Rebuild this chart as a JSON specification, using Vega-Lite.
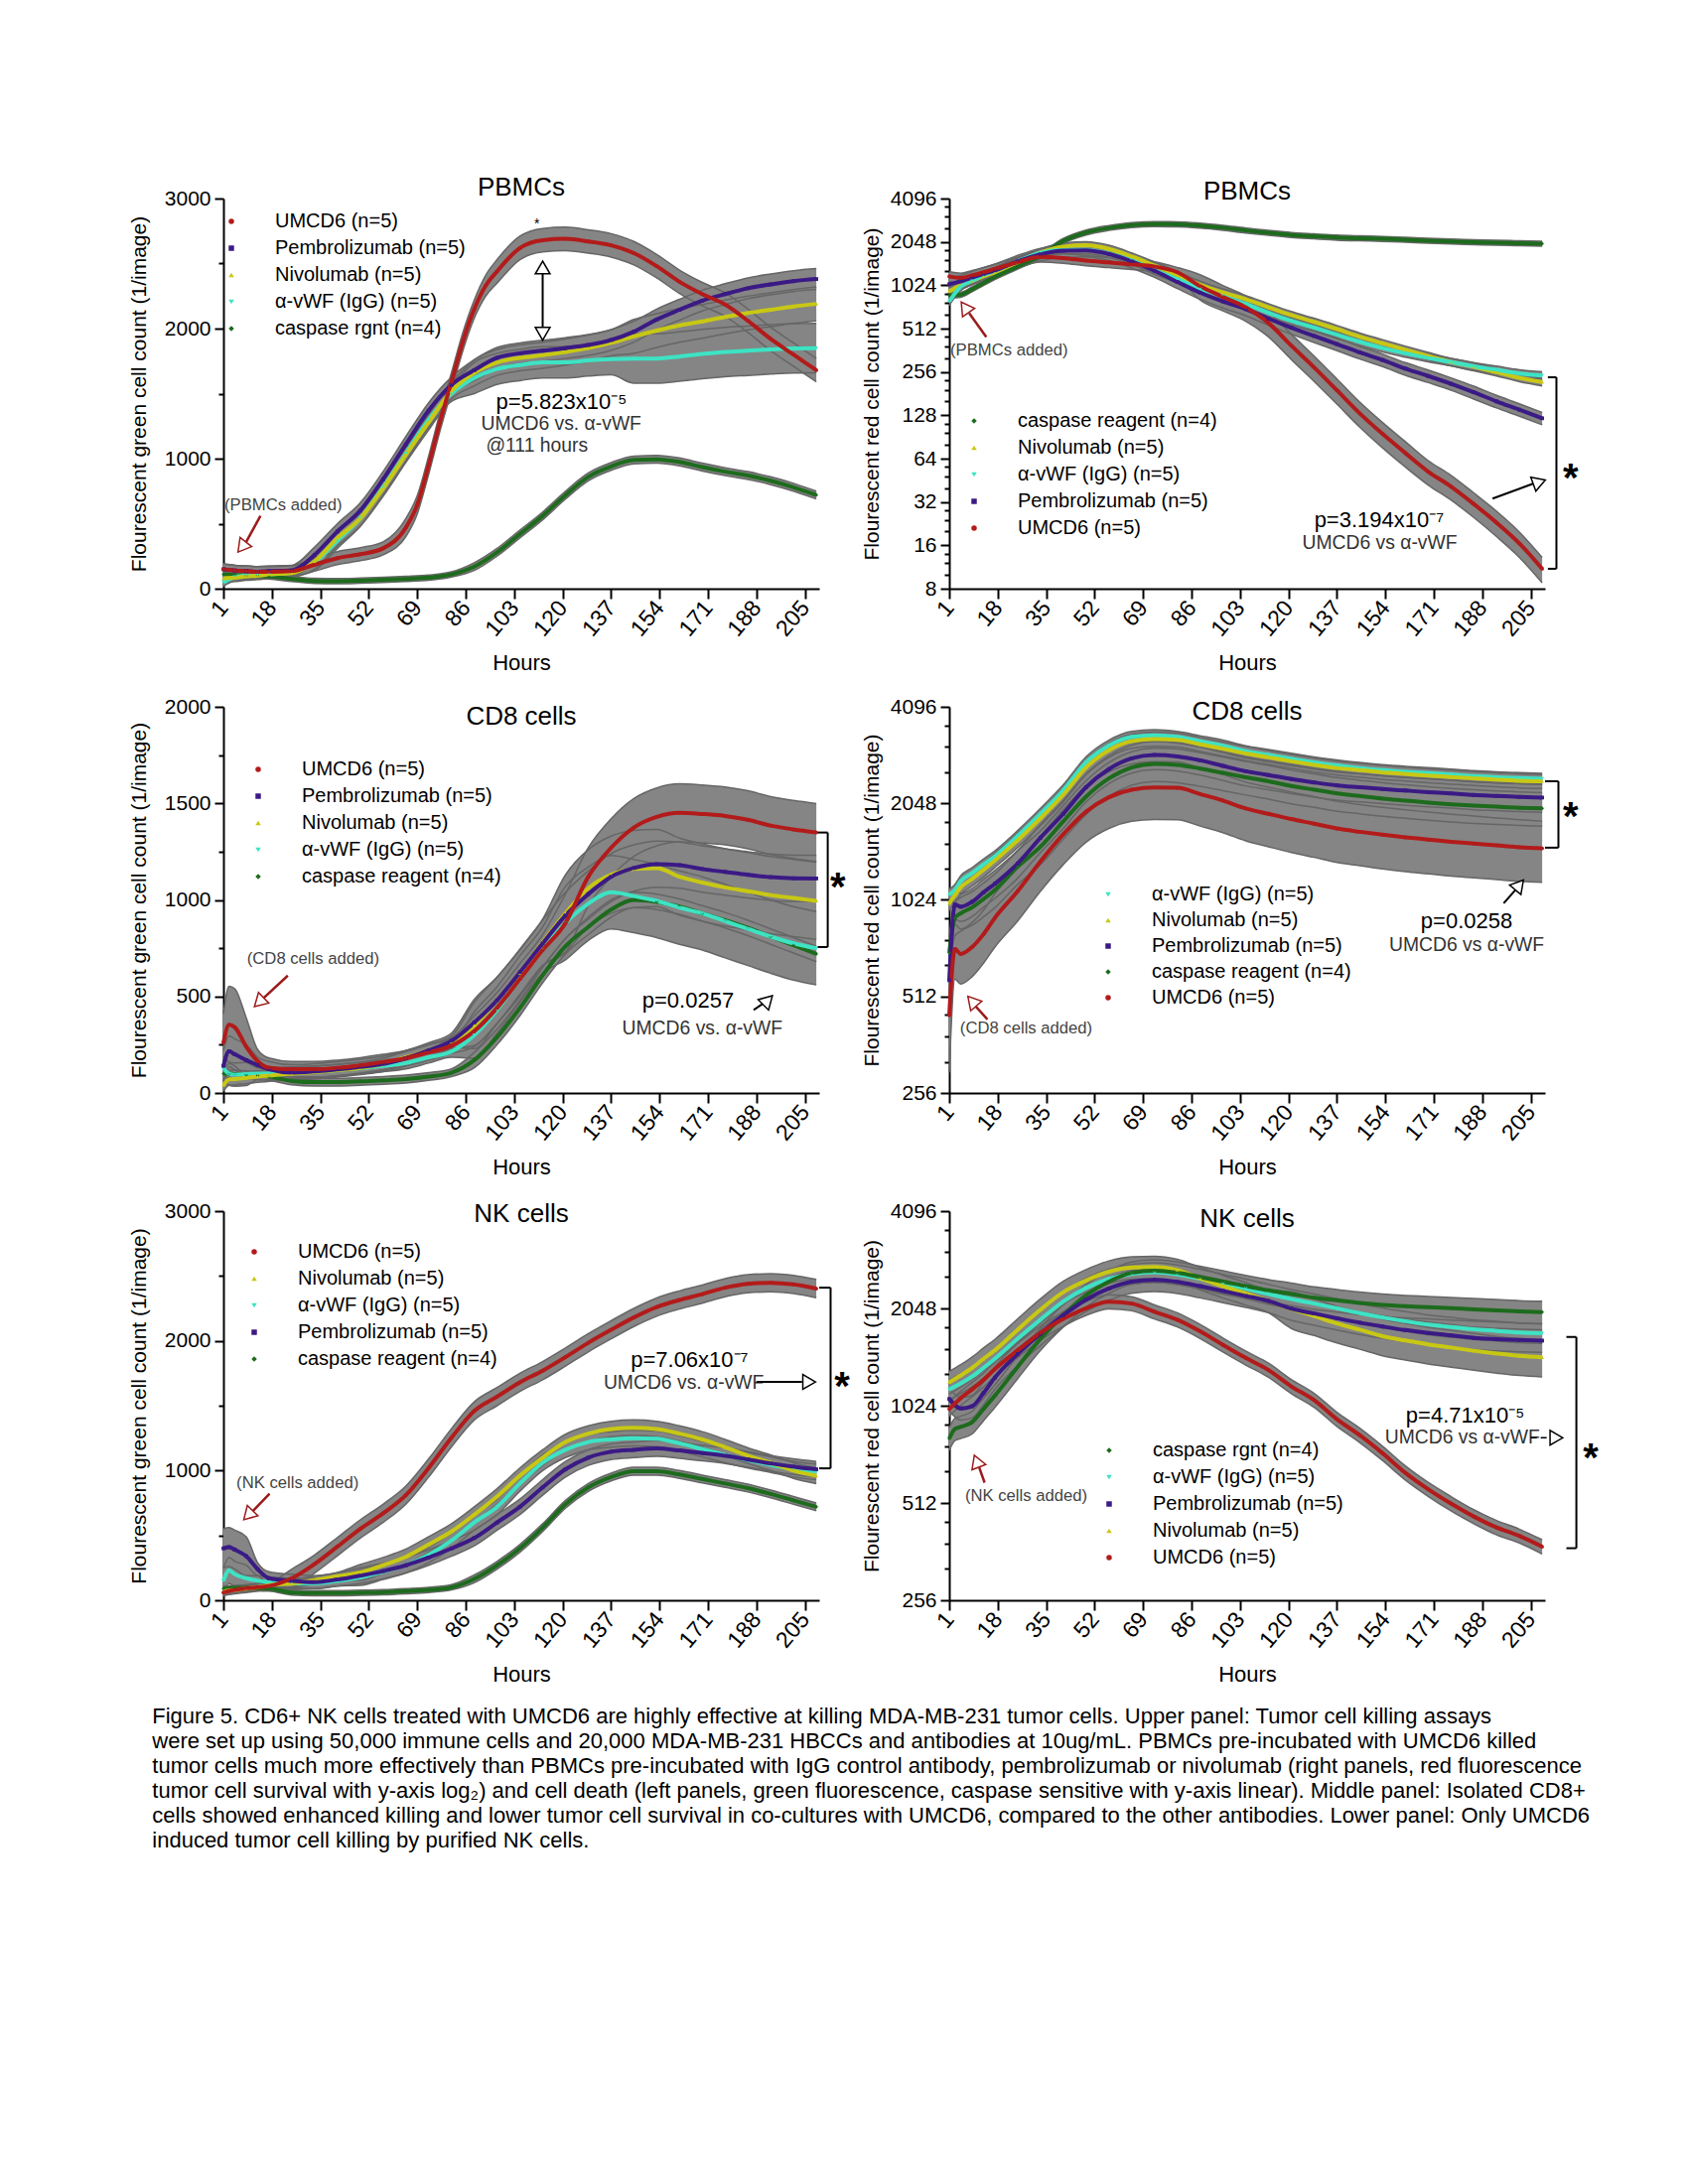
{
"$schema":"https://vega.github.io/schema/vega-lite/v6.json",
"background":"white",
"padding":{"left":129,"top":176,"right":0,"bottom":0},
"datasets":{
"tl":[
{"s":"C","t":1,"y":110,"e":20},{"s":"C","t":5,"y":105,"e":20},{"s":"C","t":9,"y":100,"e":20},{"s":"C","t":13,"y":100,"e":20},{"s":"C","t":17,"y":95,"e":20},{"s":"C","t":25,"y":75,"e":20},{"s":"C","t":33,"y":60,"e":20},{"s":"C","t":41,"y":58,"e":20},{"s":"C","t":49,"y":62,"e":20},{"s":"C","t":57,"y":68,"e":20},{"s":"C","t":65,"y":75,"e":20},{"s":"C","t":73,"y":85,"e":20},{"s":"C","t":81,"y":110,"e":20},{"s":"C","t":89,"y":170,"e":30},{"s":"C","t":97,"y":280,"e":30},{"s":"C","t":105,"y":420,"e":30},{"s":"C","t":113,"y":560,"e":30},{"s":"C","t":121,"y":720,"e":30},{"s":"C","t":129,"y":860,"e":30},{"s":"C","t":137,"y":940,"e":30},{"s":"C","t":145,"y":990,"e":30},{"s":"C","t":153,"y":995,"e":30},{"s":"C","t":161,"y":975,"e":30},{"s":"C","t":169,"y":935,"e":30},{"s":"C","t":177,"y":900,"e":30},{"s":"C","t":185,"y":870,"e":30},{"s":"C","t":193,"y":830,"e":30},{"s":"C","t":201,"y":780,"e":30},{"s":"C","t":209,"y":720,"e":30},
{"s":"V","t":1,"y":50,"e":30},{"s":"V","t":5,"y":90,"e":30},{"s":"V","t":9,"y":100,"e":30},{"s":"V","t":13,"y":105,"e":30},{"s":"V","t":17,"y":110,"e":30},{"s":"V","t":25,"y":125,"e":30},{"s":"V","t":33,"y":200,"e":60},{"s":"V","t":41,"y":370,"e":60},{"s":"V","t":49,"y":540,"e":60},{"s":"V","t":57,"y":780,"e":60},{"s":"V","t":65,"y":1040,"e":60},{"s":"V","t":73,"y":1300,"e":60},{"s":"V","t":81,"y":1500,"e":60},{"s":"V","t":89,"y":1620,"e":120},{"s":"V","t":97,"y":1690,"e":120},{"s":"V","t":105,"y":1720,"e":120},{"s":"V","t":113,"y":1740,"e":120},{"s":"V","t":121,"y":1740,"e":120},{"s":"V","t":129,"y":1755,"e":120},{"s":"V","t":137,"y":1765,"e":120},{"s":"V","t":145,"y":1770,"e":190},{"s":"V","t":153,"y":1770,"e":190},{"s":"V","t":161,"y":1785,"e":190},{"s":"V","t":169,"y":1805,"e":190},{"s":"V","t":177,"y":1820,"e":190},{"s":"V","t":185,"y":1830,"e":190},{"s":"V","t":193,"y":1840,"e":190},{"s":"V","t":201,"y":1848,"e":190},{"s":"V","t":209,"y":1850,"e":190},
{"s":"N","t":1,"y":80,"e":30},{"s":"N","t":5,"y":85,"e":30},{"s":"N","t":9,"y":95,"e":30},{"s":"N","t":13,"y":100,"e":30},{"s":"N","t":17,"y":110,"e":30},{"s":"N","t":25,"y":120,"e":30},{"s":"N","t":33,"y":210,"e":60},{"s":"N","t":41,"y":390,"e":60},{"s":"N","t":49,"y":540,"e":60},{"s":"N","t":57,"y":770,"e":60},{"s":"N","t":65,"y":1030,"e":60},{"s":"N","t":73,"y":1280,"e":60},{"s":"N","t":81,"y":1520,"e":60},{"s":"N","t":89,"y":1660,"e":100},{"s":"N","t":97,"y":1740,"e":100},{"s":"N","t":105,"y":1775,"e":100},{"s":"N","t":113,"y":1795,"e":100},{"s":"N","t":121,"y":1820,"e":100},{"s":"N","t":129,"y":1850,"e":100},{"s":"N","t":137,"y":1890,"e":100},{"s":"N","t":145,"y":1940,"e":130},{"s":"N","t":153,"y":1985,"e":130},{"s":"N","t":161,"y":2025,"e":130},{"s":"N","t":169,"y":2055,"e":130},{"s":"N","t":177,"y":2090,"e":130},{"s":"N","t":185,"y":2120,"e":130},{"s":"N","t":193,"y":2145,"e":130},{"s":"N","t":201,"y":2170,"e":130},{"s":"N","t":209,"y":2190,"e":130},
{"s":"P","t":1,"y":150,"e":40},{"s":"P","t":5,"y":140,"e":40},{"s":"P","t":9,"y":135,"e":40},{"s":"P","t":13,"y":130,"e":40},{"s":"P","t":17,"y":135,"e":40},{"s":"P","t":25,"y":140,"e":40},{"s":"P","t":33,"y":260,"e":60},{"s":"P","t":41,"y":440,"e":60},{"s":"P","t":49,"y":600,"e":60},{"s":"P","t":57,"y":840,"e":60},{"s":"P","t":65,"y":1110,"e":60},{"s":"P","t":73,"y":1370,"e":60},{"s":"P","t":81,"y":1567,"e":60},{"s":"P","t":89,"y":1680,"e":80},{"s":"P","t":97,"y":1775,"e":80},{"s":"P","t":105,"y":1810,"e":80},{"s":"P","t":113,"y":1830,"e":80},{"s":"P","t":121,"y":1850,"e":80},{"s":"P","t":129,"y":1874,"e":80},{"s":"P","t":137,"y":1912,"e":80},{"s":"P","t":145,"y":1976,"e":80},{"s":"P","t":153,"y":2070,"e":80},{"s":"P","t":161,"y":2145,"e":80},{"s":"P","t":169,"y":2215,"e":80},{"s":"P","t":177,"y":2265,"e":80},{"s":"P","t":185,"y":2310,"e":80},{"s":"P","t":193,"y":2340,"e":80},{"s":"P","t":201,"y":2365,"e":80},{"s":"P","t":209,"y":2381,"e":80},
{"s":"U","t":1,"y":150,"e":40},{"s":"U","t":5,"y":140,"e":40},{"s":"U","t":9,"y":135,"e":40},{"s":"U","t":13,"y":130,"e":40},{"s":"U","t":17,"y":130,"e":40},{"s":"U","t":25,"y":135,"e":40},{"s":"U","t":33,"y":185,"e":50},{"s":"U","t":41,"y":235,"e":50},{"s":"U","t":49,"y":265,"e":50},{"s":"U","t":57,"y":310,"e":50},{"s":"U","t":65,"y":470,"e":70},{"s":"U","t":69,"y":645,"e":70},{"s":"U","t":73,"y":950,"e":70},{"s":"U","t":77,"y":1285,"e":70},{"s":"U","t":81,"y":1590,"e":70},{"s":"U","t":85,"y":1900,"e":70},{"s":"U","t":89,"y":2150,"e":70},{"s":"U","t":93,"y":2330,"e":80},{"s":"U","t":97,"y":2440,"e":90},{"s":"U","t":105,"y":2620,"e":90},{"s":"U","t":113,"y":2680,"e":90},{"s":"U","t":121,"y":2690,"e":90},{"s":"U","t":129,"y":2670,"e":90},{"s":"U","t":137,"y":2640,"e":90},{"s":"U","t":145,"y":2580,"e":90},{"s":"U","t":153,"y":2480,"e":90},{"s":"U","t":161,"y":2360,"e":90},{"s":"U","t":169,"y":2265,"e":90},{"s":"U","t":177,"y":2185,"e":90},{"s":"U","t":185,"y":2060,"e":90},{"s":"U","t":193,"y":1920,"e":90},{"s":"U","t":201,"y":1800,"e":90},{"s":"U","t":209,"y":1680,"e":90}
],
"tr":[
{"s":"C","t":1,"y":870,"e":35},{"s":"C","t":5,"y":880,"e":35},{"s":"C","t":9,"y":960,"e":38},{"s":"C","t":13,"y":1060,"e":42},{"s":"C","t":17,"y":1170,"e":47},{"s":"C","t":25,"y":1380,"e":55},{"s":"C","t":33,"y":1640,"e":66},{"s":"C","t":41,"y":2080,"e":83},{"s":"C","t":49,"y":2380,"e":95},{"s":"C","t":57,"y":2560,"e":100},{"s":"C","t":65,"y":2680,"e":107},{"s":"C","t":73,"y":2720,"e":109},{"s":"C","t":81,"y":2715,"e":109},{"s":"C","t":89,"y":2660,"e":106},{"s":"C","t":97,"y":2570,"e":103},{"s":"C","t":105,"y":2460,"e":98},{"s":"C","t":113,"y":2370,"e":95},{"s":"C","t":121,"y":2290,"e":92},{"s":"C","t":129,"y":2240,"e":90},{"s":"C","t":137,"y":2195,"e":88},{"s":"C","t":145,"y":2170,"e":87},{"s":"C","t":153,"y":2150,"e":86},{"s":"C","t":161,"y":2120,"e":85},{"s":"C","t":169,"y":2085,"e":83},{"s":"C","t":177,"y":2060,"e":82},{"s":"C","t":185,"y":2040,"e":82},{"s":"C","t":193,"y":2020,"e":81},{"s":"C","t":201,"y":2005,"e":80},{"s":"C","t":209,"y":1990,"e":80},
{"s":"N","t":1,"y":930,"e":56},{"s":"N","t":5,"y":1020,"e":61},{"s":"N","t":9,"y":1100,"e":66},{"s":"N","t":13,"y":1180,"e":71},{"s":"N","t":17,"y":1260,"e":76},{"s":"N","t":25,"y":1480,"e":89},{"s":"N","t":33,"y":1730,"e":104},{"s":"N","t":41,"y":1900,"e":114},{"s":"N","t":49,"y":1940,"e":116},{"s":"N","t":57,"y":1830,"e":110},{"s":"N","t":65,"y":1620,"e":97},{"s":"N","t":73,"y":1400,"e":84},{"s":"N","t":81,"y":1200,"e":72},{"s":"N","t":89,"y":1030,"e":62},{"s":"N","t":97,"y":910,"e":55},{"s":"N","t":105,"y":820,"e":49},{"s":"N","t":113,"y":720,"e":43},{"s":"N","t":121,"y":635,"e":38},{"s":"N","t":129,"y":570,"e":34},{"s":"N","t":137,"y":508,"e":30},{"s":"N","t":145,"y":450,"e":27},{"s":"N","t":153,"y":405,"e":24},{"s":"N","t":161,"y":365,"e":22},{"s":"N","t":169,"y":330,"e":20},{"s":"N","t":177,"y":300,"e":18},{"s":"N","t":185,"y":278,"e":17},{"s":"N","t":193,"y":255,"e":15},{"s":"N","t":201,"y":233,"e":14},{"s":"N","t":209,"y":218,"e":13},
{"s":"V","t":1,"y":790,"e":47},{"s":"V","t":5,"y":1000,"e":60},{"s":"V","t":9,"y":1100,"e":66},{"s":"V","t":13,"y":1200,"e":72},{"s":"V","t":17,"y":1290,"e":77},{"s":"V","t":25,"y":1500,"e":90},{"s":"V","t":33,"y":1720,"e":103},{"s":"V","t":41,"y":1800,"e":108},{"s":"V","t":49,"y":1800,"e":108},{"s":"V","t":57,"y":1700,"e":102},{"s":"V","t":65,"y":1520,"e":91},{"s":"V","t":73,"y":1300,"e":78},{"s":"V","t":81,"y":1130,"e":68},{"s":"V","t":89,"y":970,"e":58},{"s":"V","t":97,"y":860,"e":52},{"s":"V","t":105,"y":760,"e":46},{"s":"V","t":113,"y":660,"e":40},{"s":"V","t":121,"y":580,"e":35},{"s":"V","t":129,"y":520,"e":31},{"s":"V","t":137,"y":465,"e":28},{"s":"V","t":145,"y":415,"e":25},{"s":"V","t":153,"y":375,"e":23},{"s":"V","t":161,"y":345,"e":21},{"s":"V","t":169,"y":320,"e":19},{"s":"V","t":177,"y":300,"e":18},{"s":"V","t":185,"y":280,"e":17},{"s":"V","t":193,"y":265,"e":16},{"s":"V","t":201,"y":250,"e":15},{"s":"V","t":209,"y":242,"e":15},
{"s":"P","t":1,"y":1040,"e":104},{"s":"P","t":5,"y":1090,"e":109},{"s":"P","t":9,"y":1160,"e":116},{"s":"P","t":13,"y":1230,"e":123},{"s":"P","t":17,"y":1300,"e":130},{"s":"P","t":25,"y":1500,"e":150},{"s":"P","t":33,"y":1680,"e":168},{"s":"P","t":41,"y":1780,"e":178},{"s":"P","t":49,"y":1790,"e":179},{"s":"P","t":57,"y":1690,"e":169},{"s":"P","t":65,"y":1500,"e":150},{"s":"P","t":73,"y":1290,"e":129},{"s":"P","t":81,"y":1080,"e":108},{"s":"P","t":89,"y":910,"e":91},{"s":"P","t":97,"y":790,"e":79},{"s":"P","t":105,"y":700,"e":70},{"s":"P","t":113,"y":600,"e":60},{"s":"P","t":121,"y":520,"e":52},{"s":"P","t":129,"y":455,"e":46},{"s":"P","t":137,"y":400,"e":40},{"s":"P","t":145,"y":350,"e":35},{"s":"P","t":153,"y":310,"e":31},{"s":"P","t":161,"y":270,"e":27},{"s":"P","t":169,"y":240,"e":24},{"s":"P","t":177,"y":212,"e":21},{"s":"P","t":185,"y":185,"e":19},{"s":"P","t":193,"y":160,"e":16},{"s":"P","t":201,"y":140,"e":14},{"s":"P","t":209,"y":122,"e":12},
{"s":"U","t":1,"y":1180,"e":94},{"s":"U","t":5,"y":1150,"e":92},{"s":"U","t":9,"y":1200,"e":96},{"s":"U","t":13,"y":1260,"e":101},{"s":"U","t":17,"y":1330,"e":106},{"s":"U","t":25,"y":1480,"e":118},{"s":"U","t":33,"y":1610,"e":129},{"s":"U","t":41,"y":1580,"e":126},{"s":"U","t":49,"y":1520,"e":122},{"s":"U","t":57,"y":1475,"e":118},{"s":"U","t":65,"y":1430,"e":114},{"s":"U","t":73,"y":1380,"e":110},{"s":"U","t":81,"y":1260,"e":101},{"s":"U","t":89,"y":1010,"e":202},{"s":"U","t":97,"y":850,"e":170},{"s":"U","t":105,"y":720,"e":144},{"s":"U","t":113,"y":560,"e":112},{"s":"U","t":121,"y":390,"e":78},{"s":"U","t":129,"y":275,"e":55},{"s":"U","t":137,"y":191,"e":38},{"s":"U","t":145,"y":132,"e":26},{"s":"U","t":153,"y":95,"e":19},{"s":"U","t":161,"y":70,"e":14},{"s":"U","t":169,"y":52,"e":10},{"s":"U","t":177,"y":41,"e":8},{"s":"U","t":185,"y":31,"e":6},{"s":"U","t":193,"y":23,"e":4.6},{"s":"U","t":201,"y":16.5,"e":3.3},{"s":"U","t":209,"y":11,"e":2.2}
],
"ml":[
{"s":"C","t":1,"y":100,"e":20},{"s":"C","t":3,"y":100,"e":20},{"s":"C","t":5,"y":98,"e":20},{"s":"C","t":9,"y":95,"e":20},{"s":"C","t":13,"y":90,"e":20},{"s":"C","t":17,"y":85,"e":20},{"s":"C","t":25,"y":62,"e":20},{"s":"C","t":33,"y":56,"e":20},{"s":"C","t":41,"y":56,"e":20},{"s":"C","t":49,"y":60,"e":20},{"s":"C","t":57,"y":65,"e":20},{"s":"C","t":65,"y":72,"e":20},{"s":"C","t":73,"y":85,"e":20},{"s":"C","t":81,"y":105,"e":20},{"s":"C","t":89,"y":170,"e":40},{"s":"C","t":97,"y":290,"e":40},{"s":"C","t":105,"y":440,"e":40},{"s":"C","t":113,"y":610,"e":40},{"s":"C","t":121,"y":760,"e":40},{"s":"C","t":129,"y":860,"e":40},{"s":"C","t":137,"y":950,"e":40},{"s":"C","t":145,"y":1000,"e":40},{"s":"C","t":153,"y":990,"e":40},{"s":"C","t":161,"y":965,"e":40},{"s":"C","t":169,"y":930,"e":40},{"s":"C","t":177,"y":895,"e":40},{"s":"C","t":185,"y":855,"e":40},{"s":"C","t":193,"y":810,"e":40},{"s":"C","t":201,"y":765,"e":40},{"s":"C","t":209,"y":720,"e":40},
{"s":"V","t":1,"y":130,"e":60},{"s":"V","t":3,"y":100,"e":60},{"s":"V","t":5,"y":95,"e":60},{"s":"V","t":9,"y":98,"e":60},{"s":"V","t":13,"y":100,"e":30},{"s":"V","t":17,"y":100,"e":30},{"s":"V","t":25,"y":105,"e":30},{"s":"V","t":33,"y":110,"e":30},{"s":"V","t":41,"y":118,"e":30},{"s":"V","t":49,"y":128,"e":30},{"s":"V","t":57,"y":140,"e":30},{"s":"V","t":65,"y":155,"e":30},{"s":"V","t":73,"y":185,"e":30},{"s":"V","t":81,"y":215,"e":30},{"s":"V","t":89,"y":300,"e":120},{"s":"V","t":97,"y":430,"e":120},{"s":"V","t":105,"y":590,"e":120},{"s":"V","t":113,"y":740,"e":120},{"s":"V","t":121,"y":880,"e":190},{"s":"V","t":129,"y":980,"e":190},{"s":"V","t":137,"y":1040,"e":190},{"s":"V","t":145,"y":1020,"e":190},{"s":"V","t":153,"y":995,"e":190},{"s":"V","t":161,"y":960,"e":190},{"s":"V","t":169,"y":930,"e":190},{"s":"V","t":177,"y":890,"e":190},{"s":"V","t":185,"y":850,"e":190},{"s":"V","t":193,"y":810,"e":190},{"s":"V","t":201,"y":775,"e":190},{"s":"V","t":209,"y":750,"e":190},
{"s":"N","t":1,"y":40,"e":30},{"s":"N","t":3,"y":70,"e":30},{"s":"N","t":5,"y":72,"e":30},{"s":"N","t":9,"y":78,"e":30},{"s":"N","t":13,"y":85,"e":30},{"s":"N","t":17,"y":90,"e":30},{"s":"N","t":25,"y":100,"e":30},{"s":"N","t":33,"y":108,"e":30},{"s":"N","t":41,"y":118,"e":30},{"s":"N","t":49,"y":130,"e":30},{"s":"N","t":57,"y":150,"e":30},{"s":"N","t":65,"y":185,"e":30},{"s":"N","t":73,"y":220,"e":30},{"s":"N","t":81,"y":265,"e":30},{"s":"N","t":89,"y":350,"e":120},{"s":"N","t":97,"y":480,"e":120},{"s":"N","t":105,"y":620,"e":120},{"s":"N","t":113,"y":780,"e":120},{"s":"N","t":121,"y":930,"e":200},{"s":"N","t":129,"y":1060,"e":200},{"s":"N","t":137,"y":1130,"e":200},{"s":"N","t":145,"y":1160,"e":200},{"s":"N","t":153,"y":1165,"e":200},{"s":"N","t":161,"y":1120,"e":200},{"s":"N","t":169,"y":1090,"e":200},{"s":"N","t":177,"y":1065,"e":200},{"s":"N","t":185,"y":1045,"e":200},{"s":"N","t":193,"y":1025,"e":200},{"s":"N","t":201,"y":1010,"e":200},{"s":"N","t":209,"y":995,"e":200},
{"s":"P","t":1,"y":140,"e":80},{"s":"P","t":3,"y":216,"e":80},{"s":"P","t":5,"y":200,"e":80},{"s":"P","t":9,"y":170,"e":80},{"s":"P","t":13,"y":145,"e":40},{"s":"P","t":17,"y":123,"e":40},{"s":"P","t":25,"y":106,"e":40},{"s":"P","t":33,"y":112,"e":40},{"s":"P","t":41,"y":122,"e":40},{"s":"P","t":49,"y":135,"e":40},{"s":"P","t":57,"y":150,"e":40},{"s":"P","t":65,"y":180,"e":40},{"s":"P","t":73,"y":220,"e":40},{"s":"P","t":81,"y":270,"e":40},{"s":"P","t":89,"y":365,"e":120},{"s":"P","t":97,"y":480,"e":120},{"s":"P","t":105,"y":625,"e":120},{"s":"P","t":113,"y":775,"e":120},{"s":"P","t":121,"y":920,"e":120},{"s":"P","t":129,"y":1030,"e":120},{"s":"P","t":137,"y":1120,"e":120},{"s":"P","t":145,"y":1165,"e":120},{"s":"P","t":153,"y":1185,"e":120},{"s":"P","t":161,"y":1180,"e":120},{"s":"P","t":169,"y":1160,"e":120},{"s":"P","t":177,"y":1145,"e":120},{"s":"P","t":185,"y":1130,"e":120},{"s":"P","t":193,"y":1118,"e":120},{"s":"P","t":201,"y":1112,"e":120},{"s":"P","t":209,"y":1111,"e":120},
{"s":"U","t":1,"y":260,"e":150},{"s":"U","t":3,"y":353,"e":200},{"s":"U","t":5,"y":340,"e":200},{"s":"U","t":9,"y":240,"e":150},{"s":"U","t":13,"y":165,"e":60},{"s":"U","t":17,"y":131,"e":50},{"s":"U","t":25,"y":123,"e":40},{"s":"U","t":33,"y":123,"e":40},{"s":"U","t":41,"y":130,"e":40},{"s":"U","t":49,"y":143,"e":40},{"s":"U","t":57,"y":160,"e":40},{"s":"U","t":65,"y":180,"e":40},{"s":"U","t":73,"y":210,"e":40},{"s":"U","t":81,"y":245,"e":40},{"s":"U","t":89,"y":320,"e":80},{"s":"U","t":97,"y":440,"e":80},{"s":"U","t":105,"y":590,"e":80},{"s":"U","t":113,"y":740,"e":80},{"s":"U","t":121,"y":880,"e":150},{"s":"U","t":129,"y":1120,"e":150},{"s":"U","t":137,"y":1270,"e":150},{"s":"U","t":145,"y":1375,"e":150},{"s":"U","t":153,"y":1430,"e":150},{"s":"U","t":161,"y":1451,"e":150},{"s":"U","t":169,"y":1445,"e":150},{"s":"U","t":177,"y":1435,"e":150},{"s":"U","t":185,"y":1415,"e":150},{"s":"U","t":193,"y":1385,"e":150},{"s":"U","t":201,"y":1365,"e":150},{"s":"U","t":209,"y":1349,"e":150}
],
"mr":[
{"s":"C","t":1,"y":700,"e":84},{"s":"C","t":3,"y":900,"e":108},{"s":"C","t":5,"y":930,"e":112},{"s":"C","t":9,"y":970,"e":116},{"s":"C","t":13,"y":1030,"e":124},{"s":"C","t":17,"y":1100,"e":132},{"s":"C","t":25,"y":1300,"e":156},{"s":"C","t":33,"y":1500,"e":180},{"s":"C","t":41,"y":1800,"e":216},{"s":"C","t":49,"y":2150,"e":258},{"s":"C","t":57,"y":2450,"e":294},{"s":"C","t":65,"y":2650,"e":318},{"s":"C","t":73,"y":2720,"e":326},{"s":"C","t":81,"y":2700,"e":324},{"s":"C","t":89,"y":2630,"e":316},{"s":"C","t":97,"y":2550,"e":306},{"s":"C","t":105,"y":2470,"e":296},{"s":"C","t":113,"y":2400,"e":288},{"s":"C","t":121,"y":2320,"e":278},{"s":"C","t":129,"y":2260,"e":271},{"s":"C","t":137,"y":2200,"e":264},{"s":"C","t":145,"y":2160,"e":259},{"s":"C","t":153,"y":2120,"e":254},{"s":"C","t":161,"y":2090,"e":251},{"s":"C","t":169,"y":2060,"e":247},{"s":"C","t":177,"y":2035,"e":244},{"s":"C","t":185,"y":2015,"e":242},{"s":"C","t":193,"y":2000,"e":240},{"s":"C","t":201,"y":1985,"e":238},{"s":"C","t":209,"y":1975,"e":237},
{"s":"V","t":1,"y":1063,"e":43},{"s":"V","t":3,"y":1100,"e":44},{"s":"V","t":5,"y":1170,"e":47},{"s":"V","t":9,"y":1240,"e":50},{"s":"V","t":13,"y":1320,"e":53},{"s":"V","t":17,"y":1400,"e":56},{"s":"V","t":25,"y":1620,"e":65},{"s":"V","t":33,"y":1900,"e":76},{"s":"V","t":41,"y":2250,"e":90},{"s":"V","t":49,"y":2750,"e":110},{"s":"V","t":57,"y":3100,"e":124},{"s":"V","t":65,"y":3300,"e":132},{"s":"V","t":73,"y":3340,"e":134},{"s":"V","t":81,"y":3300,"e":132},{"s":"V","t":89,"y":3200,"e":128},{"s":"V","t":97,"y":3100,"e":124},{"s":"V","t":105,"y":2980,"e":119},{"s":"V","t":113,"y":2900,"e":116},{"s":"V","t":121,"y":2820,"e":113},{"s":"V","t":129,"y":2750,"e":110},{"s":"V","t":137,"y":2690,"e":108},{"s":"V","t":145,"y":2640,"e":106},{"s":"V","t":153,"y":2600,"e":104},{"s":"V","t":161,"y":2570,"e":103},{"s":"V","t":169,"y":2545,"e":102},{"s":"V","t":177,"y":2520,"e":101},{"s":"V","t":185,"y":2490,"e":100},{"s":"V","t":193,"y":2470,"e":99},{"s":"V","t":201,"y":2455,"e":98},{"s":"V","t":209,"y":2445,"e":98},
{"s":"N","t":1,"y":1000,"e":50},{"s":"N","t":3,"y":1060,"e":53},{"s":"N","t":5,"y":1120,"e":56},{"s":"N","t":9,"y":1190,"e":60},{"s":"N","t":13,"y":1270,"e":64},{"s":"N","t":17,"y":1360,"e":68},{"s":"N","t":25,"y":1570,"e":79},{"s":"N","t":33,"y":1840,"e":92},{"s":"N","t":41,"y":2180,"e":109},{"s":"N","t":49,"y":2650,"e":133},{"s":"N","t":57,"y":3000,"e":150},{"s":"N","t":65,"y":3200,"e":160},{"s":"N","t":73,"y":3250,"e":163},{"s":"N","t":81,"y":3230,"e":162},{"s":"N","t":89,"y":3130,"e":157},{"s":"N","t":97,"y":3030,"e":152},{"s":"N","t":105,"y":2930,"e":147},{"s":"N","t":113,"y":2850,"e":143},{"s":"N","t":121,"y":2770,"e":139},{"s":"N","t":129,"y":2700,"e":135},{"s":"N","t":137,"y":2640,"e":132},{"s":"N","t":145,"y":2600,"e":130},{"s":"N","t":153,"y":2560,"e":128},{"s":"N","t":161,"y":2530,"e":127},{"s":"N","t":169,"y":2500,"e":125},{"s":"N","t":177,"y":2475,"e":124},{"s":"N","t":185,"y":2450,"e":123},{"s":"N","t":193,"y":2430,"e":122},{"s":"N","t":201,"y":2410,"e":121},{"s":"N","t":209,"y":2400,"e":120},
{"s":"P","t":1,"y":575,"e":58},{"s":"P","t":3,"y":990,"e":99},{"s":"P","t":5,"y":975,"e":98},{"s":"P","t":9,"y":1010,"e":101},{"s":"P","t":13,"y":1080,"e":108},{"s":"P","t":17,"y":1150,"e":115},{"s":"P","t":25,"y":1330,"e":133},{"s":"P","t":33,"y":1600,"e":160},{"s":"P","t":41,"y":1900,"e":190},{"s":"P","t":49,"y":2300,"e":230},{"s":"P","t":57,"y":2620,"e":262},{"s":"P","t":65,"y":2830,"e":283},{"s":"P","t":73,"y":2900,"e":290},{"s":"P","t":81,"y":2870,"e":287},{"s":"P","t":89,"y":2790,"e":279},{"s":"P","t":97,"y":2680,"e":268},{"s":"P","t":105,"y":2580,"e":258},{"s":"P","t":113,"y":2510,"e":251},{"s":"P","t":121,"y":2440,"e":244},{"s":"P","t":129,"y":2380,"e":238},{"s":"P","t":137,"y":2330,"e":233},{"s":"P","t":145,"y":2300,"e":230},{"s":"P","t":153,"y":2270,"e":227},{"s":"P","t":161,"y":2245,"e":225},{"s":"P","t":169,"y":2220,"e":222},{"s":"P","t":177,"y":2200,"e":220},{"s":"P","t":185,"y":2175,"e":218},{"s":"P","t":193,"y":2160,"e":216},{"s":"P","t":201,"y":2145,"e":215},{"s":"P","t":209,"y":2135,"e":214},
{"s":"U","t":1,"y":447,"e":150},{"s":"U","t":3,"y":720,"e":140},{"s":"U","t":5,"y":695,"e":135},{"s":"U","t":9,"y":730,"e":140},{"s":"U","t":13,"y":800,"e":150},{"s":"U","t":17,"y":900,"e":170},{"s":"U","t":25,"y":1090,"e":210},{"s":"U","t":33,"y":1350,"e":260},{"s":"U","t":41,"y":1640,"e":320},{"s":"U","t":49,"y":1930,"e":380},{"s":"U","t":57,"y":2140,"e":430},{"s":"U","t":65,"y":2260,"e":460},{"s":"U","t":73,"y":2295,"e":470},{"s":"U","t":81,"y":2290,"e":470},{"s":"U","t":89,"y":2190,"e":450},{"s":"U","t":97,"y":2090,"e":430},{"s":"U","t":105,"y":1975,"e":410},{"s":"U","t":113,"y":1900,"e":400},{"s":"U","t":121,"y":1830,"e":390},{"s":"U","t":129,"y":1770,"e":380},{"s":"U","t":137,"y":1710,"e":370},{"s":"U","t":145,"y":1670,"e":360},{"s":"U","t":153,"y":1635,"e":355},{"s":"U","t":161,"y":1605,"e":350},{"s":"U","t":169,"y":1580,"e":345},{"s":"U","t":177,"y":1555,"e":340},{"s":"U","t":185,"y":1535,"e":335},{"s":"U","t":193,"y":1515,"e":330},{"s":"U","t":201,"y":1495,"e":325},{"s":"U","t":209,"y":1483,"e":320}
],
"bl":[
{"s":"C","t":1,"y":90,"e":20},{"s":"C","t":5,"y":95,"e":20},{"s":"C","t":9,"y":95,"e":20},{"s":"C","t":13,"y":92,"e":20},{"s":"C","t":17,"y":90,"e":20},{"s":"C","t":25,"y":60,"e":20},{"s":"C","t":33,"y":55,"e":20},{"s":"C","t":41,"y":55,"e":20},{"s":"C","t":49,"y":58,"e":20},{"s":"C","t":57,"y":62,"e":20},{"s":"C","t":65,"y":70,"e":20},{"s":"C","t":73,"y":80,"e":20},{"s":"C","t":81,"y":100,"e":20},{"s":"C","t":89,"y":165,"e":30},{"s":"C","t":97,"y":270,"e":30},{"s":"C","t":105,"y":400,"e":30},{"s":"C","t":113,"y":560,"e":30},{"s":"C","t":121,"y":740,"e":30},{"s":"C","t":129,"y":870,"e":30},{"s":"C","t":137,"y":950,"e":30},{"s":"C","t":145,"y":995,"e":30},{"s":"C","t":153,"y":995,"e":30},{"s":"C","t":161,"y":970,"e":30},{"s":"C","t":169,"y":935,"e":30},{"s":"C","t":177,"y":900,"e":30},{"s":"C","t":185,"y":865,"e":30},{"s":"C","t":193,"y":820,"e":30},{"s":"C","t":201,"y":770,"e":30},{"s":"C","t":209,"y":720,"e":30},
{"s":"V","t":1,"y":150,"e":100},{"s":"V","t":3,"y":230,"e":100},{"s":"V","t":5,"y":200,"e":100},{"s":"V","t":9,"y":170,"e":100},{"s":"V","t":13,"y":150,"e":40},{"s":"V","t":17,"y":140,"e":40},{"s":"V","t":25,"y":130,"e":40},{"s":"V","t":33,"y":130,"e":40},{"s":"V","t":41,"y":150,"e":40},{"s":"V","t":49,"y":175,"e":60},{"s":"V","t":57,"y":220,"e":60},{"s":"V","t":65,"y":270,"e":60},{"s":"V","t":73,"y":350,"e":60},{"s":"V","t":81,"y":460,"e":60},{"s":"V","t":89,"y":600,"e":60},{"s":"V","t":97,"y":720,"e":60},{"s":"V","t":105,"y":900,"e":60},{"s":"V","t":113,"y":1060,"e":60},{"s":"V","t":121,"y":1160,"e":60},{"s":"V","t":129,"y":1220,"e":60},{"s":"V","t":137,"y":1240,"e":60},{"s":"V","t":145,"y":1250,"e":60},{"s":"V","t":153,"y":1245,"e":60},{"s":"V","t":161,"y":1210,"e":60},{"s":"V","t":169,"y":1165,"e":60},{"s":"V","t":177,"y":1120,"e":60},{"s":"V","t":185,"y":1080,"e":60},{"s":"V","t":193,"y":1045,"e":60},{"s":"V","t":201,"y":1010,"e":60},{"s":"V","t":209,"y":990,"e":60},
{"s":"N","t":1,"y":70,"e":30},{"s":"N","t":5,"y":80,"e":30},{"s":"N","t":9,"y":90,"e":30},{"s":"N","t":13,"y":100,"e":30},{"s":"N","t":17,"y":115,"e":30},{"s":"N","t":25,"y":130,"e":30},{"s":"N","t":33,"y":155,"e":30},{"s":"N","t":41,"y":185,"e":30},{"s":"N","t":49,"y":215,"e":60},{"s":"N","t":57,"y":270,"e":60},{"s":"N","t":65,"y":335,"e":60},{"s":"N","t":73,"y":430,"e":60},{"s":"N","t":81,"y":530,"e":60},{"s":"N","t":89,"y":660,"e":60},{"s":"N","t":97,"y":800,"e":60},{"s":"N","t":105,"y":960,"e":60},{"s":"N","t":113,"y":1100,"e":60},{"s":"N","t":121,"y":1220,"e":60},{"s":"N","t":129,"y":1285,"e":60},{"s":"N","t":137,"y":1320,"e":60},{"s":"N","t":145,"y":1330,"e":60},{"s":"N","t":153,"y":1320,"e":60},{"s":"N","t":161,"y":1285,"e":60},{"s":"N","t":169,"y":1240,"e":60},{"s":"N","t":177,"y":1180,"e":60},{"s":"N","t":185,"y":1115,"e":60},{"s":"N","t":193,"y":1060,"e":60},{"s":"N","t":201,"y":1000,"e":60},{"s":"N","t":209,"y":960,"e":60},
{"s":"P","t":1,"y":400,"e":150},{"s":"P","t":3,"y":410,"e":150},{"s":"P","t":5,"y":390,"e":150},{"s":"P","t":9,"y":340,"e":150},{"s":"P","t":13,"y":240,"e":50},{"s":"P","t":17,"y":170,"e":50},{"s":"P","t":25,"y":150,"e":50},{"s":"P","t":33,"y":140,"e":50},{"s":"P","t":41,"y":160,"e":50},{"s":"P","t":49,"y":190,"e":60},{"s":"P","t":57,"y":225,"e":60},{"s":"P","t":65,"y":270,"e":60},{"s":"P","t":73,"y":330,"e":60},{"s":"P","t":81,"y":400,"e":60},{"s":"P","t":89,"y":480,"e":60},{"s":"P","t":97,"y":600,"e":60},{"s":"P","t":105,"y":720,"e":60},{"s":"P","t":113,"y":870,"e":60},{"s":"P","t":121,"y":1010,"e":60},{"s":"P","t":129,"y":1100,"e":60},{"s":"P","t":137,"y":1145,"e":60},{"s":"P","t":145,"y":1160,"e":60},{"s":"P","t":153,"y":1170,"e":60},{"s":"P","t":161,"y":1155,"e":60},{"s":"P","t":169,"y":1135,"e":60},{"s":"P","t":177,"y":1115,"e":60},{"s":"P","t":185,"y":1085,"e":60},{"s":"P","t":193,"y":1055,"e":60},{"s":"P","t":201,"y":1030,"e":60},{"s":"P","t":209,"y":1010,"e":60},
{"s":"U","t":1,"y":60,"e":25},{"s":"U","t":5,"y":80,"e":25},{"s":"U","t":9,"y":92,"e":25},{"s":"U","t":13,"y":100,"e":25},{"s":"U","t":17,"y":110,"e":25},{"s":"U","t":25,"y":170,"e":70},{"s":"U","t":33,"y":280,"e":70},{"s":"U","t":41,"y":414,"e":70},{"s":"U","t":49,"y":550,"e":70},{"s":"U","t":57,"y":670,"e":70},{"s":"U","t":65,"y":810,"e":70},{"s":"U","t":73,"y":1020,"e":70},{"s":"U","t":81,"y":1253,"e":70},{"s":"U","t":89,"y":1460,"e":70},{"s":"U","t":97,"y":1570,"e":70},{"s":"U","t":105,"y":1680,"e":70},{"s":"U","t":113,"y":1770,"e":70},{"s":"U","t":121,"y":1875,"e":70},{"s":"U","t":129,"y":1985,"e":70},{"s":"U","t":137,"y":2085,"e":70},{"s":"U","t":145,"y":2180,"e":70},{"s":"U","t":153,"y":2260,"e":70},{"s":"U","t":161,"y":2315,"e":70},{"s":"U","t":169,"y":2360,"e":70},{"s":"U","t":177,"y":2410,"e":70},{"s":"U","t":185,"y":2440,"e":70},{"s":"U","t":193,"y":2448,"e":70},{"s":"U","t":201,"y":2435,"e":70},{"s":"U","t":209,"y":2403,"e":70}
],
"br":[
{"s":"V","t":1,"y":1150,"e":81},{"s":"V","t":5,"y":1200,"e":84},{"s":"V","t":9,"y":1260,"e":88},{"s":"V","t":13,"y":1340,"e":94},{"s":"V","t":17,"y":1430,"e":100},{"s":"V","t":25,"y":1650,"e":116},{"s":"V","t":33,"y":1890,"e":132},{"s":"V","t":41,"y":2150,"e":151},{"s":"V","t":49,"y":2370,"e":166},{"s":"V","t":57,"y":2530,"e":177},{"s":"V","t":65,"y":2620,"e":183},{"s":"V","t":73,"y":2650,"e":186},{"s":"V","t":81,"y":2610,"e":183},{"s":"V","t":89,"y":2530,"e":177},{"s":"V","t":97,"y":2440,"e":171},{"s":"V","t":105,"y":2360,"e":165},{"s":"V","t":113,"y":2270,"e":159},{"s":"V","t":121,"y":2190,"e":153},{"s":"V","t":129,"y":2120,"e":148},{"s":"V","t":137,"y":2050,"e":144},{"s":"V","t":145,"y":1980,"e":139},{"s":"V","t":153,"y":1920,"e":134},{"s":"V","t":161,"y":1870,"e":131},{"s":"V","t":169,"y":1825,"e":128},{"s":"V","t":177,"y":1795,"e":126},{"s":"V","t":185,"y":1765,"e":124},{"s":"V","t":193,"y":1745,"e":122},{"s":"V","t":201,"y":1725,"e":121},{"s":"V","t":209,"y":1715,"e":120},
{"s":"N","t":1,"y":1210,"e":97},{"s":"N","t":5,"y":1270,"e":102},{"s":"N","t":9,"y":1340,"e":107},{"s":"N","t":13,"y":1430,"e":114},{"s":"N","t":17,"y":1520,"e":122},{"s":"N","t":25,"y":1760,"e":141},{"s":"N","t":33,"y":2030,"e":162},{"s":"N","t":41,"y":2300,"e":184},{"s":"N","t":49,"y":2500,"e":200},{"s":"N","t":57,"y":2660,"e":213},{"s":"N","t":65,"y":2740,"e":219},{"s":"N","t":73,"y":2750,"e":220},{"s":"N","t":81,"y":2690,"e":215},{"s":"N","t":89,"y":2540,"e":203},{"s":"N","t":97,"y":2400,"e":192},{"s":"N","t":105,"y":2280,"e":182},{"s":"N","t":113,"y":2160,"e":173},{"s":"N","t":121,"y":2040,"e":265},{"s":"N","t":129,"y":1940,"e":252},{"s":"N","t":137,"y":1840,"e":239},{"s":"N","t":145,"y":1760,"e":229},{"s":"N","t":153,"y":1680,"e":218},{"s":"N","t":161,"y":1630,"e":212},{"s":"N","t":169,"y":1585,"e":206},{"s":"N","t":177,"y":1550,"e":202},{"s":"N","t":185,"y":1515,"e":197},{"s":"N","t":193,"y":1485,"e":193},{"s":"N","t":201,"y":1460,"e":190},{"s":"N","t":209,"y":1445,"e":188},
{"s":"C","t":1,"y":810,"e":65},{"s":"C","t":3,"y":868,"e":69},{"s":"C","t":5,"y":880,"e":70},{"s":"C","t":9,"y":910,"e":73},{"s":"C","t":13,"y":1000,"e":80},{"s":"C","t":17,"y":1100,"e":88},{"s":"C","t":25,"y":1350,"e":108},{"s":"C","t":33,"y":1650,"e":132},{"s":"C","t":41,"y":1950,"e":156},{"s":"C","t":49,"y":2250,"e":180},{"s":"C","t":57,"y":2480,"e":198},{"s":"C","t":65,"y":2640,"e":211},{"s":"C","t":73,"y":2680,"e":214},{"s":"C","t":81,"y":2640,"e":211},{"s":"C","t":89,"y":2560,"e":205},{"s":"C","t":97,"y":2480,"e":198},{"s":"C","t":105,"y":2400,"e":192},{"s":"C","t":113,"y":2330,"e":186},{"s":"C","t":121,"y":2270,"e":182},{"s":"C","t":129,"y":2210,"e":177},{"s":"C","t":137,"y":2170,"e":174},{"s":"C","t":145,"y":2130,"e":170},{"s":"C","t":153,"y":2100,"e":168},{"s":"C","t":161,"y":2080,"e":166},{"s":"C","t":169,"y":2065,"e":165},{"s":"C","t":177,"y":2050,"e":164},{"s":"C","t":185,"y":2035,"e":163},{"s":"C","t":193,"y":2020,"e":162},{"s":"C","t":201,"y":2005,"e":160},{"s":"C","t":209,"y":1995,"e":160},
{"s":"P","t":1,"y":1075,"e":86},{"s":"P","t":5,"y":1005,"e":80},{"s":"P","t":9,"y":1020,"e":82},{"s":"P","t":13,"y":1120,"e":90},{"s":"P","t":17,"y":1250,"e":100},{"s":"P","t":25,"y":1480,"e":118},{"s":"P","t":33,"y":1710,"e":137},{"s":"P","t":41,"y":1950,"e":156},{"s":"P","t":49,"y":2180,"e":174},{"s":"P","t":57,"y":2360,"e":189},{"s":"P","t":65,"y":2480,"e":198},{"s":"P","t":73,"y":2510,"e":201},{"s":"P","t":81,"y":2475,"e":198},{"s":"P","t":89,"y":2400,"e":192},{"s":"P","t":97,"y":2320,"e":186},{"s":"P","t":105,"y":2240,"e":179},{"s":"P","t":113,"y":2160,"e":173},{"s":"P","t":121,"y":2045,"e":164},{"s":"P","t":129,"y":1975,"e":158},{"s":"P","t":137,"y":1910,"e":153},{"s":"P","t":145,"y":1850,"e":148},{"s":"P","t":153,"y":1800,"e":144},{"s":"P","t":161,"y":1755,"e":140},{"s":"P","t":169,"y":1720,"e":138},{"s":"P","t":177,"y":1690,"e":135},{"s":"P","t":185,"y":1660,"e":133},{"s":"P","t":193,"y":1645,"e":132},{"s":"P","t":201,"y":1635,"e":131},{"s":"P","t":209,"y":1628,"e":130},
{"s":"U","t":1,"y":1000,"e":50},{"s":"U","t":5,"y":1080,"e":54},{"s":"U","t":9,"y":1150,"e":58},{"s":"U","t":13,"y":1230,"e":62},{"s":"U","t":17,"y":1330,"e":67},{"s":"U","t":25,"y":1520,"e":76},{"s":"U","t":33,"y":1720,"e":86},{"s":"U","t":41,"y":1900,"e":95},{"s":"U","t":49,"y":2050,"e":103},{"s":"U","t":57,"y":2150,"e":108},{"s":"U","t":65,"y":2120,"e":106},{"s":"U","t":73,"y":2000,"e":100},{"s":"U","t":81,"y":1890,"e":95},{"s":"U","t":89,"y":1740,"e":87},{"s":"U","t":97,"y":1580,"e":79},{"s":"U","t":105,"y":1440,"e":72},{"s":"U","t":113,"y":1320,"e":66},{"s":"U","t":121,"y":1175,"e":59},{"s":"U","t":129,"y":1065,"e":53},{"s":"U","t":137,"y":930,"e":47},{"s":"U","t":145,"y":830,"e":42},{"s":"U","t":153,"y":730,"e":37},{"s":"U","t":161,"y":635,"e":32},{"s":"U","t":169,"y":565,"e":28},{"s":"U","t":177,"y":510,"e":26},{"s":"U","t":185,"y":465,"e":23},{"s":"U","t":193,"y":430,"e":22},{"s":"U","t":201,"y":405,"e":20},{"s":"U","t":209,"y":375,"e":19}
],
"tla":[
{"k":"st","t":111,"y":2805,"txt":"*"},
{"k":"p","t":119.6,"y":1438,"txt":"p=5.823x10⁻⁵"},
{"k":"s","t":119.5,"y":1264,"txt":"UMCD6 vs. α-vWF"},
{"k":"s","t":111,"y":1098,"txt":"@111 hours"},
{"k":"add","t":22,"y":645,"txt":"(PBMCs added)"},
{"k":"bs","t":113,"y":2440,"t2":113,"y2":1990},
{"k":"bh","t":113,"y":2470,"a":0},
{"k":"bh","t":113,"y":1960,"a":180},
{"k":"rs","t":14,"y":560,"t2":9,"y2":360},
{"k":"rh","t":7.5,"y":320,"a":218}
],
"tra":[
{"k":"add","t":22,"y":361,"txt":"(PBMCs added)"},
{"k":"p","t":151.8,"y":24,"txt":"p=3.194x10⁻⁷"},
{"k":"s","t":152,"y":16.6,"txt":"UMCD6 vs α-vWF"},
{"k":"star","t":219,"y":46,"txt":"*"},
{"k":"rs","t":14,"y":447,"t2":8,"y2":654},
{"k":"rh","t":6.5,"y":720,"a":325},
{"k":"bs","t":191.6,"y":33.8,"t2":206,"y2":43},
{"k":"bh","t":208,"y":44,"a":70},
{"k":"bs","t":214,"y":235,"t2":214,"y2":11},
{"k":"bs","t":211,"y":235,"t2":214,"y2":235},
{"k":"bs","t":211,"y":11,"t2":214,"y2":11}
],
"mla":[
{"k":"add","t":32.5,"y":692,"txt":"(CD8 cells added)"},
{"k":"p","t":164,"y":476,"txt":"p=0.0257"},
{"k":"s","t":169,"y":334,"txt":"UMCD6 vs. α-vWF"},
{"k":"star","t":216.5,"y":1060,"txt":"*"},
{"k":"rs","t":23.6,"y":608,"t2":15,"y2":490},
{"k":"rh","t":13.5,"y":470,"a":226},
{"k":"bs","t":187,"y":430,"t2":191,"y2":470},
{"k":"bh","t":192,"y":480,"a":45},
{"k":"bs","t":213,"y":1349,"t2":213,"y2":756},
{"k":"bs","t":209.5,"y":1349,"t2":213,"y2":1349},
{"k":"bs","t":209.5,"y":756,"t2":213,"y2":756}
],
"mra":[
{"k":"add","t":28,"y":406,"txt":"(CD8 cells added)"},
{"k":"p","t":182.5,"y":881,"txt":"p=0.0258"},
{"k":"s","t":182.5,"y":738,"txt":"UMCD6 vs α-vWF"},
{"k":"star","t":219,"y":1845,"txt":"*"},
{"k":"rs","t":14.4,"y":434,"t2":10,"y2":480},
{"k":"rh","t":9,"y":495,"a":319},
{"k":"bs","t":195.5,"y":1000,"t2":200,"y2":1110},
{"k":"bh","t":201,"y":1140,"a":40},
{"k":"bs","t":214.7,"y":2400,"t2":214.7,"y2":1490},
{"k":"bs","t":210,"y":2400,"t2":214.7,"y2":2400},
{"k":"bs","t":210,"y":1490,"t2":214.7,"y2":1490}
],
"bla":[
{"k":"add","t":27,"y":904,"txt":"(NK cells added)"},
{"k":"p","t":164.5,"y":1851,"txt":"p=7.06x10⁻⁷"},
{"k":"s","t":162.5,"y":1673,"txt":"UMCD6 vs. α-vWF"},
{"k":"star","t":218,"y":1635,"txt":"*"},
{"k":"rs","t":17.2,"y":821,"t2":11,"y2":680},
{"k":"rh","t":9.7,"y":656,"a":224},
{"k":"bs","t":188,"y":1683,"t2":204,"y2":1683},
{"k":"bh","t":206.5,"y":1683,"a":90},
{"k":"bs","t":214,"y":2410,"t2":214,"y2":1017},
{"k":"bs","t":210,"y":2410,"t2":214,"y2":2410},
{"k":"bs","t":210,"y":1017,"t2":214,"y2":1017}
],
"bra":[
{"k":"add","t":28,"y":537,"txt":"(NK cells added)"},
{"k":"p","t":182,"y":955,"txt":"p=4.71x10⁻⁵"},
{"k":"s","t":181,"y":815,"txt":"UMCD6 vs α-vWF"},
{"k":"star","t":226,"y":697,"txt":"*"},
{"k":"rs","t":13.4,"y":592,"t2":11.5,"y2":660},
{"k":"rh","t":10.6,"y":690,"a":339},
{"k":"ds","t":205,"y":815,"t2":211,"y2":815},
{"k":"bh","t":214,"y":815,"a":90},
{"k":"bs","t":221,"y":1671,"t2":221,"y2":371},
{"k":"bs","t":217.5,"y":1671,"t2":221,"y2":1671},
{"k":"bs","t":217.5,"y":371,"t2":221,"y2":371}
]
},
"concat":[
{"width":600,"height":393,
"title":{"text":"PBMCs","fontSize":26,"offset":-13,"frame":"group","anchor":"middle"},
"layer":[
{"data":{"name":"tl"},"mark":{"type":"errorband","interpolate":"monotone","band":{"color":"#858585","opacity":1},"borders":{"color":"#666666","strokeWidth":1.5}},
"encoding":{"x":{"field":"t","type":"quantitative","title":"Hours","scale":{"domain":[1,210],"nice":false,"zero":false}},"y":{"field":"y","type":"quantitative","title":"Flourescent green cell count (1/image)","scale":{"domain":[0,3000],"nice":false}},"yError":{"field":"e"},"detail":{"field":"s"}}},
{"data":{"name":"tl"},"mark":{"type":"line","strokeWidth":4,"interpolate":"monotone"},
"encoding":{"x":{"field":"t","type":"quantitative","scale":{"domain":[1,210],"nice":false,"zero":false},"axis":{"values":[1,18,35,52,69,86,103,120,137,154,171,188,205],"labelAngle":-50,"title":"Hours","labelOverlap":false}},
"y":{"field":"y","type":"quantitative","scale":{"domain":[0,3000],"nice":false},"axis":{"values":[0,250,500,750,1000,1250,1500,1750,2000,2250,2500,2750,3000],"labelExpr":"datum.value % 1000 === 0 ? datum.value : ''","tickSize":{"condition":{"test":"datum.value % 1000 === 0","value":9},"value":5},"title":"Flourescent green cell count (1/image)","labelOverlap":false,"titlePadding":15}},
"stroke":{"field":"s","type":"nominal","scale":{"domain":["C","V","N","P","U"],"range":["#1d6b1d","#3de3c4","#c8c814","#3b1a85","#b31b1b"]},"legend":null}}},
{"data":{"name":"tl"},"mark":{"type":"point","filled":true,"size":14,"opacity":1},
"encoding":{"x":{"field":"t","type":"quantitative","scale":{"domain":[1,210],"nice":false,"zero":false}},"y":{"field":"y","type":"quantitative","scale":{"domain":[0,3000],"nice":false}},
"color":{"field":"s","type":"nominal","scale":{"domain":["U","P","N","V","C"],"range":["#b31b1b","#3b1a85","#c8c814","#3de3c4","#1d6b1d"]},"legend":{"orient":"none","legendX":-2,"legendY":13,"title":null,"labelExpr":"datum.label=='U'?'UMCD6 (n=5)':datum.label=='P'?'Pembrolizumab (n=5)':datum.label=='N'?'Nivolumab (n=5)':datum.label=='V'?'α-vWF (IgG) (n=5)':'caspase rgnt (n=4)'"}},
"shape":{"field":"s","type":"nominal","scale":{"domain":["U","P","N","V","C"],"range":["circle","square","triangle-up","triangle-down","diamond"]},"legend":{"orient":"none","legendX":-2,"legendY":13,"title":null,"labelExpr":"datum.label=='U'?'UMCD6 (n=5)':datum.label=='P'?'Pembrolizumab (n=5)':datum.label=='N'?'Nivolumab (n=5)':datum.label=='V'?'α-vWF (IgG) (n=5)':'caspase rgnt (n=4)'"}}}},
{"data":{"name":"tla"},"transform":[{"filter":"isValid(datum.txt) && datum.k != 'star'"}],"mark":{"type":"text","baseline":"middle","align":"center"},
"encoding":{"x":{"field":"t","type":"quantitative","scale":{"domain":[1,210],"nice":false,"zero":false}},"y":{"field":"y","type":"quantitative","scale":{"domain":[0,3000],"nice":false}},"text":{"field":"txt"},
"size":{"field":"k","type":"nominal","scale":{"domain":["p","s","add","st"],"range":[22,14,14,36]},"legend":null},
"fill":{"field":"k","type":"nominal","scale":{"domain":["p","s","add","st"],"range":["#000000","#333333","#444444","#000000"]},"legend":null}}},
{"data":{"name":"tla"},"transform":[{"filter":"datum.k=='bs'"}],"mark":{"type":"rule","color":"#000","strokeWidth":2},
"encoding":{"x":{"field":"t","type":"quantitative","scale":{"domain":[1,210],"nice":false,"zero":false}},"x2":{"field":"t2"},"y":{"field":"y","type":"quantitative","scale":{"domain":[0,3000],"nice":false}},"y2":{"field":"y2"}}},
{"data":{"name":"tla"},"transform":[{"filter":"datum.k=='rs'"}],"mark":{"type":"rule","color":"#9b1b1b","strokeWidth":2.5},
"encoding":{"x":{"field":"t","type":"quantitative","scale":{"domain":[1,210],"nice":false,"zero":false}},"x2":{"field":"t2"},"y":{"field":"y","type":"quantitative","scale":{"domain":[0,3000],"nice":false}},"y2":{"field":"y2"}}},
{"data":{"name":"tla"},"transform":[{"filter":"datum.k=='bh'"}],"mark":{"type":"point","shape":"triangle-up","size":220,"filled":true,"fill":"#ffffff","stroke":"#000000","strokeWidth":1.5,"opacity":1},
"encoding":{"x":{"field":"t","type":"quantitative","scale":{"domain":[1,210],"nice":false,"zero":false}},"y":{"field":"y","type":"quantitative","scale":{"domain":[0,3000],"nice":false}},"angle":{"field":"a","type":"quantitative","scale":null}}},
{"data":{"name":"tla"},"transform":[{"filter":"datum.k=='rh'"}],"mark":{"type":"point","shape":"triangle-up","size":220,"filled":true,"fill":"#ffffff","stroke":"#9b1b1b","strokeWidth":1.5,"opacity":1},
"encoding":{"x":{"field":"t","type":"quantitative","scale":{"domain":[1,210],"nice":false,"zero":false}},"y":{"field":"y","type":"quantitative","scale":{"domain":[0,3000],"nice":false}},"angle":{"field":"a","type":"quantitative","scale":null}}}
]},
{"width":600,"height":393,
"title":{"text":"PBMCs","fontSize":26,"offset":-17,"frame":"group","anchor":"middle"},
"layer":[
{"data":{"name":"tr"},"mark":{"type":"errorband","interpolate":"monotone","band":{"color":"#858585","opacity":1},"borders":{"color":"#666666","strokeWidth":1.5}},
"encoding":{"x":{"field":"t","type":"quantitative","title":"Hours","scale":{"domain":[1,210],"nice":false,"zero":false}},"y":{"field":"y","type":"quantitative","title":"Flourescent red cell count (1/image)","scale":{"type":"log","base":2,"domain":[8,4096],"nice":false}},"yError":{"field":"e"},"detail":{"field":"s"}}},
{"data":{"name":"tr"},"mark":{"type":"line","strokeWidth":4,"interpolate":"monotone"},
"encoding":{"x":{"field":"t","type":"quantitative","scale":{"domain":[1,210],"nice":false,"zero":false},"axis":{"values":[1,18,35,52,69,86,103,120,137,154,171,188,205],"labelAngle":-50,"title":"Hours","labelOverlap":false}},
"y":{"field":"y","type":"quantitative","scale":{"type":"log","base":2,"domain":[8,4096],"nice":false},"axis":{"values":[8,10,12,14,16,20,24,28,32,40,48,56,64,80,96,112,128,160,192,224,256,320,384,448,512,640,768,896,1024,1280,1536,1792,2048,2560,3072,3584,4096],"labelExpr":"indexof([8,16,32,64,128,256,512,1024,2048,4096], datum.value) >= 0 ? datum.value : ''","tickSize":{"condition":{"test":"indexof([8,16,32,64,128,256,512,1024,2048,4096], datum.value) >= 0","value":9},"value":5},"title":"Flourescent red cell count (1/image)","labelOverlap":false,"titlePadding":8}},
"stroke":{"field":"s","type":"nominal","scale":{"domain":["U","P","V","N","C"],"range":["#b31b1b","#3b1a85","#3de3c4","#c8c814","#1d6b1d"]},"legend":null}}},
{"data":{"name":"tr"},"mark":{"type":"point","filled":true,"size":14,"opacity":1},
"encoding":{"x":{"field":"t","type":"quantitative","scale":{"domain":[1,210],"nice":false,"zero":false}},"y":{"field":"y","type":"quantitative","scale":{"type":"log","base":2,"domain":[8,4096],"nice":false}},
"color":{"field":"s","type":"nominal","scale":{"domain":["C","N","V","P","U"],"range":["#1d6b1d","#c8c814","#3de3c4","#3b1a85","#b31b1b"]},"legend":{"orient":"none","legendX":15,"legendY":214,"title":null,"labelExpr":"datum.label=='U'?'UMCD6 (n=5)':datum.label=='P'?'Pembrolizumab (n=5)':datum.label=='N'?'Nivolumab (n=5)':datum.label=='V'?'α-vWF (IgG) (n=5)':'caspase reagent (n=4)'"}},
"shape":{"field":"s","type":"nominal","scale":{"domain":["C","N","V","P","U"],"range":["diamond","triangle-up","triangle-down","square","circle"]},"legend":{"orient":"none","legendX":15,"legendY":214,"title":null,"labelExpr":"datum.label=='U'?'UMCD6 (n=5)':datum.label=='P'?'Pembrolizumab (n=5)':datum.label=='N'?'Nivolumab (n=5)':datum.label=='V'?'α-vWF (IgG) (n=5)':'caspase reagent (n=4)'"}}}},
{"data":{"name":"tra"},"transform":[{"filter":"isValid(datum.txt) && datum.k != 'star'"}],"mark":{"type":"text","baseline":"middle","align":"center"},
"encoding":{"x":{"field":"t","type":"quantitative","scale":{"domain":[1,210],"nice":false,"zero":false}},"y":{"field":"y","type":"quantitative","scale":{"type":"log","base":2,"domain":[8,4096],"nice":false}},"text":{"field":"txt"},
"size":{"field":"k","type":"nominal","scale":{"domain":["p","s","add","st"],"range":[22,14,14,36]},"legend":null},
"fill":{"field":"k","type":"nominal","scale":{"domain":["p","s","add","st"],"range":["#000000","#333333","#444444","#000000"]},"legend":null}}},
{"data":{"name":"tra"},"transform":[{"filter":"datum.k=='star'"}],"mark":{"type":"text","baseline":"middle","align":"center","fontSize":40,"fontWeight":"bold","color":"#000"},
"encoding":{"x":{"field":"t","type":"quantitative","scale":{"domain":[1,210],"nice":false,"zero":false}},"y":{"field":"y","type":"quantitative","scale":{"type":"log","base":2,"domain":[8,4096],"nice":false}},"text":{"field":"txt"}}},
{"data":{"name":"tra"},"transform":[{"filter":"datum.k=='bs'"}],"mark":{"type":"rule","color":"#000","strokeWidth":2},
"encoding":{"x":{"field":"t","type":"quantitative","scale":{"domain":[1,210],"nice":false,"zero":false}},"x2":{"field":"t2"},"y":{"field":"y","type":"quantitative","scale":{"type":"log","base":2,"domain":[8,4096],"nice":false}},"y2":{"field":"y2"}}},
{"data":{"name":"tra"},"transform":[{"filter":"datum.k=='rs'"}],"mark":{"type":"rule","color":"#9b1b1b","strokeWidth":2.5},
"encoding":{"x":{"field":"t","type":"quantitative","scale":{"domain":[1,210],"nice":false,"zero":false}},"x2":{"field":"t2"},"y":{"field":"y","type":"quantitative","scale":{"type":"log","base":2,"domain":[8,4096],"nice":false}},"y2":{"field":"y2"}}},
{"data":{"name":"tra"},"transform":[{"filter":"datum.k=='bh'"}],"mark":{"type":"point","shape":"triangle-up","size":220,"filled":true,"fill":"#ffffff","stroke":"#000000","strokeWidth":1.5,"opacity":1},
"encoding":{"x":{"field":"t","type":"quantitative","scale":{"domain":[1,210],"nice":false,"zero":false}},"y":{"field":"y","type":"quantitative","scale":{"type":"log","base":2,"domain":[8,4096],"nice":false}},"angle":{"field":"a","type":"quantitative","scale":null}}},
{"data":{"name":"tra"},"transform":[{"filter":"datum.k=='rh'"}],"mark":{"type":"point","shape":"triangle-up","size":220,"filled":true,"fill":"#ffffff","stroke":"#9b1b1b","strokeWidth":1.5,"opacity":1},
"encoding":{"x":{"field":"t","type":"quantitative","scale":{"domain":[1,210],"nice":false,"zero":false}},"y":{"field":"y","type":"quantitative","scale":{"type":"log","base":2,"domain":[8,4096],"nice":false}},"angle":{"field":"a","type":"quantitative","scale":null}}}
]},
{"width":600,"height":389,
"title":{"text":"CD8 cells","fontSize":26,"offset":-34,"frame":"group","anchor":"middle"},
"layer":[
{"data":{"name":"ml"},"mark":{"type":"errorband","interpolate":"monotone","band":{"color":"#858585","opacity":1},"borders":{"color":"#666666","strokeWidth":1.5}},
"encoding":{"x":{"field":"t","type":"quantitative","title":"Hours","scale":{"domain":[1,210],"nice":false,"zero":false}},"y":{"field":"y","type":"quantitative","title":"Flourescent green cell count (1/image)","scale":{"domain":[0,2000],"nice":false}},"yError":{"field":"e"},"detail":{"field":"s"}}},
{"data":{"name":"ml"},"mark":{"type":"line","strokeWidth":4,"interpolate":"monotone"},
"encoding":{"x":{"field":"t","type":"quantitative","scale":{"domain":[1,210],"nice":false,"zero":false},"axis":{"values":[1,18,35,52,69,86,103,120,137,154,171,188,205],"labelAngle":-50,"title":"Hours","labelOverlap":false}},
"y":{"field":"y","type":"quantitative","scale":{"domain":[0,2000],"nice":false},"axis":{"values":[0,125,250,375,500,625,750,875,1000,1125,1250,1375,1500,1625,1750,1875,2000],"labelExpr":"datum.value % 500 === 0 ? datum.value : ''","tickSize":{"condition":{"test":"datum.value % 500 === 0","value":9},"value":5},"title":"Flourescent green cell count (1/image)","labelOverlap":false,"titlePadding":15}},
"stroke":{"field":"s","type":"nominal","scale":{"domain":["C","V","N","P","U"],"range":["#1d6b1d","#3de3c4","#c8c814","#3b1a85","#b31b1b"]},"legend":null}}},
{"data":{"name":"ml"},"mark":{"type":"point","filled":true,"size":14,"opacity":1},
"encoding":{"x":{"field":"t","type":"quantitative","scale":{"domain":[1,210],"nice":false,"zero":false}},"y":{"field":"y","type":"quantitative","scale":{"domain":[0,2000],"nice":false}},
"color":{"field":"s","type":"nominal","scale":{"domain":["U","P","N","V","C"],"range":["#b31b1b","#3b1a85","#c8c814","#3de3c4","#1d6b1d"]},"legend":{"orient":"none","legendX":25,"legendY":53,"title":null,"labelExpr":"datum.label=='U'?'UMCD6 (n=5)':datum.label=='P'?'Pembrolizumab (n=5)':datum.label=='N'?'Nivolumab (n=5)':datum.label=='V'?'α-vWF (IgG) (n=5)':'caspase reagent (n=4)'"}},
"shape":{"field":"s","type":"nominal","scale":{"domain":["U","P","N","V","C"],"range":["circle","square","triangle-up","triangle-down","diamond"]},"legend":{"orient":"none","legendX":25,"legendY":53,"title":null,"labelExpr":"datum.label=='U'?'UMCD6 (n=5)':datum.label=='P'?'Pembrolizumab (n=5)':datum.label=='N'?'Nivolumab (n=5)':datum.label=='V'?'α-vWF (IgG) (n=5)':'caspase reagent (n=4)'"}}}},
{"data":{"name":"mla"},"transform":[{"filter":"isValid(datum.txt) && datum.k != 'star'"}],"mark":{"type":"text","baseline":"middle","align":"center"},
"encoding":{"x":{"field":"t","type":"quantitative","scale":{"domain":[1,210],"nice":false,"zero":false}},"y":{"field":"y","type":"quantitative","scale":{"domain":[0,2000],"nice":false}},"text":{"field":"txt"},
"size":{"field":"k","type":"nominal","scale":{"domain":["p","s","add","st"],"range":[22,14,14,36]},"legend":null},
"fill":{"field":"k","type":"nominal","scale":{"domain":["p","s","add","st"],"range":["#000000","#333333","#444444","#000000"]},"legend":null}}},
{"data":{"name":"mla"},"transform":[{"filter":"datum.k=='star'"}],"mark":{"type":"text","baseline":"middle","align":"center","fontSize":40,"fontWeight":"bold","color":"#000"},
"encoding":{"x":{"field":"t","type":"quantitative","scale":{"domain":[1,210],"nice":false,"zero":false}},"y":{"field":"y","type":"quantitative","scale":{"domain":[0,2000],"nice":false}},"text":{"field":"txt"}}},
{"data":{"name":"mla"},"transform":[{"filter":"datum.k=='bs'"}],"mark":{"type":"rule","color":"#000","strokeWidth":2},
"encoding":{"x":{"field":"t","type":"quantitative","scale":{"domain":[1,210],"nice":false,"zero":false}},"x2":{"field":"t2"},"y":{"field":"y","type":"quantitative","scale":{"domain":[0,2000],"nice":false}},"y2":{"field":"y2"}}},
{"data":{"name":"mla"},"transform":[{"filter":"datum.k=='rs'"}],"mark":{"type":"rule","color":"#9b1b1b","strokeWidth":2.5},
"encoding":{"x":{"field":"t","type":"quantitative","scale":{"domain":[1,210],"nice":false,"zero":false}},"x2":{"field":"t2"},"y":{"field":"y","type":"quantitative","scale":{"domain":[0,2000],"nice":false}},"y2":{"field":"y2"}}},
{"data":{"name":"mla"},"transform":[{"filter":"datum.k=='bh'"}],"mark":{"type":"point","shape":"triangle-up","size":220,"filled":true,"fill":"#ffffff","stroke":"#000000","strokeWidth":1.5,"opacity":1},
"encoding":{"x":{"field":"t","type":"quantitative","scale":{"domain":[1,210],"nice":false,"zero":false}},"y":{"field":"y","type":"quantitative","scale":{"domain":[0,2000],"nice":false}},"angle":{"field":"a","type":"quantitative","scale":null}}},
{"data":{"name":"mla"},"transform":[{"filter":"datum.k=='rh'"}],"mark":{"type":"point","shape":"triangle-up","size":220,"filled":true,"fill":"#ffffff","stroke":"#9b1b1b","strokeWidth":1.5,"opacity":1},
"encoding":{"x":{"field":"t","type":"quantitative","scale":{"domain":[1,210],"nice":false,"zero":false}},"y":{"field":"y","type":"quantitative","scale":{"domain":[0,2000],"nice":false}},"angle":{"field":"a","type":"quantitative","scale":null}}}
]},
{"width":600,"height":389,
"title":{"text":"CD8 cells","fontSize":26,"offset":-29,"frame":"group","anchor":"middle"},
"layer":[
{"data":{"name":"mr"},"mark":{"type":"errorband","interpolate":"monotone","band":{"color":"#858585","opacity":1},"borders":{"color":"#666666","strokeWidth":1.5}},
"encoding":{"x":{"field":"t","type":"quantitative","title":"Hours","scale":{"domain":[1,210],"nice":false,"zero":false}},"y":{"field":"y","type":"quantitative","title":"Flourescent red cell count (1/image)","scale":{"type":"log","base":2,"domain":[256,4096],"nice":false}},"yError":{"field":"e"},"detail":{"field":"s"}}},
{"data":{"name":"mr"},"mark":{"type":"line","strokeWidth":4,"interpolate":"monotone"},
"encoding":{"x":{"field":"t","type":"quantitative","scale":{"domain":[1,210],"nice":false,"zero":false},"axis":{"values":[1,18,35,52,69,86,103,120,137,154,171,188,205],"labelAngle":-50,"title":"Hours","labelOverlap":false}},
"y":{"field":"y","type":"quantitative","scale":{"type":"log","base":2,"domain":[256,4096],"nice":false},"axis":{"values":[256,320,384,448,512,640,768,896,1024,1280,1536,1792,2048,2560,3072,3584,4096],"labelExpr":"indexof([256,512,1024,2048,4096], datum.value) >= 0 ? datum.value : ''","tickSize":{"condition":{"test":"indexof([256,512,1024,2048,4096], datum.value) >= 0","value":9},"value":5},"title":"Flourescent red cell count (1/image)","labelOverlap":false,"titlePadding":8}},
"stroke":{"field":"s","type":"nominal","scale":{"domain":["U","C","P","N","V"],"range":["#b31b1b","#1d6b1d","#3b1a85","#c8c814","#3de3c4"]},"legend":null}}},
{"data":{"name":"mr"},"mark":{"type":"point","filled":true,"size":14,"opacity":1},
"encoding":{"x":{"field":"t","type":"quantitative","scale":{"domain":[1,210],"nice":false,"zero":false}},"y":{"field":"y","type":"quantitative","scale":{"type":"log","base":2,"domain":[256,4096],"nice":false}},
"color":{"field":"s","type":"nominal","scale":{"domain":["V","N","P","C","U"],"range":["#3de3c4","#c8c814","#3b1a85","#1d6b1d","#b31b1b"]},"legend":{"orient":"none","legendX":150,"legendY":179,"rowPadding":6,"title":null,"labelExpr":"datum.label=='U'?'UMCD6 (n=5)':datum.label=='P'?'Pembrolizumab (n=5)':datum.label=='N'?'Nivolumab (n=5)':datum.label=='V'?'α-vWF (IgG) (n=5)':'caspase reagent (n=4)'"}},
"shape":{"field":"s","type":"nominal","scale":{"domain":["V","N","P","C","U"],"range":["triangle-down","triangle-up","square","diamond","circle"]},"legend":{"orient":"none","legendX":150,"legendY":179,"rowPadding":6,"title":null,"labelExpr":"datum.label=='U'?'UMCD6 (n=5)':datum.label=='P'?'Pembrolizumab (n=5)':datum.label=='N'?'Nivolumab (n=5)':datum.label=='V'?'α-vWF (IgG) (n=5)':'caspase reagent (n=4)'"}}}},
{"data":{"name":"mra"},"transform":[{"filter":"isValid(datum.txt) && datum.k != 'star'"}],"mark":{"type":"text","baseline":"middle","align":"center"},
"encoding":{"x":{"field":"t","type":"quantitative","scale":{"domain":[1,210],"nice":false,"zero":false}},"y":{"field":"y","type":"quantitative","scale":{"type":"log","base":2,"domain":[256,4096],"nice":false}},"text":{"field":"txt"},
"size":{"field":"k","type":"nominal","scale":{"domain":["p","s","add","st"],"range":[22,14,14,36]},"legend":null},
"fill":{"field":"k","type":"nominal","scale":{"domain":["p","s","add","st"],"range":["#000000","#333333","#444444","#000000"]},"legend":null}}},
{"data":{"name":"mra"},"transform":[{"filter":"datum.k=='star'"}],"mark":{"type":"text","baseline":"middle","align":"center","fontSize":40,"fontWeight":"bold","color":"#000"},
"encoding":{"x":{"field":"t","type":"quantitative","scale":{"domain":[1,210],"nice":false,"zero":false}},"y":{"field":"y","type":"quantitative","scale":{"type":"log","base":2,"domain":[256,4096],"nice":false}},"text":{"field":"txt"}}},
{"data":{"name":"mra"},"transform":[{"filter":"datum.k=='bs'"}],"mark":{"type":"rule","color":"#000","strokeWidth":2},
"encoding":{"x":{"field":"t","type":"quantitative","scale":{"domain":[1,210],"nice":false,"zero":false}},"x2":{"field":"t2"},"y":{"field":"y","type":"quantitative","scale":{"type":"log","base":2,"domain":[256,4096],"nice":false}},"y2":{"field":"y2"}}},
{"data":{"name":"mra"},"transform":[{"filter":"datum.k=='rs'"}],"mark":{"type":"rule","color":"#9b1b1b","strokeWidth":2.5},
"encoding":{"x":{"field":"t","type":"quantitative","scale":{"domain":[1,210],"nice":false,"zero":false}},"x2":{"field":"t2"},"y":{"field":"y","type":"quantitative","scale":{"type":"log","base":2,"domain":[256,4096],"nice":false}},"y2":{"field":"y2"}}},
{"data":{"name":"mra"},"transform":[{"filter":"datum.k=='bh'"}],"mark":{"type":"point","shape":"triangle-up","size":220,"filled":true,"fill":"#ffffff","stroke":"#000000","strokeWidth":1.5,"opacity":1},
"encoding":{"x":{"field":"t","type":"quantitative","scale":{"domain":[1,210],"nice":false,"zero":false}},"y":{"field":"y","type":"quantitative","scale":{"type":"log","base":2,"domain":[256,4096],"nice":false}},"angle":{"field":"a","type":"quantitative","scale":null}}},
{"data":{"name":"mra"},"transform":[{"filter":"datum.k=='rh'"}],"mark":{"type":"point","shape":"triangle-up","size":220,"filled":true,"fill":"#ffffff","stroke":"#9b1b1b","strokeWidth":1.5,"opacity":1},
"encoding":{"x":{"field":"t","type":"quantitative","scale":{"domain":[1,210],"nice":false,"zero":false}},"y":{"field":"y","type":"quantitative","scale":{"type":"log","base":2,"domain":[256,4096],"nice":false}},"angle":{"field":"a","type":"quantitative","scale":null}}}
]},
{"width":600,"height":392,
"title":{"text":"NK cells","fontSize":26,"offset":-27,"frame":"group","anchor":"middle"},
"layer":[
{"data":{"name":"bl"},"mark":{"type":"errorband","interpolate":"monotone","band":{"color":"#858585","opacity":1},"borders":{"color":"#666666","strokeWidth":1.5}},
"encoding":{"x":{"field":"t","type":"quantitative","title":"Hours","scale":{"domain":[1,210],"nice":false,"zero":false}},"y":{"field":"y","type":"quantitative","title":"Flourescent green cell count (1/image)","scale":{"domain":[0,3000],"nice":false}},"yError":{"field":"e"},"detail":{"field":"s"}}},
{"data":{"name":"bl"},"mark":{"type":"line","strokeWidth":4,"interpolate":"monotone"},
"encoding":{"x":{"field":"t","type":"quantitative","scale":{"domain":[1,210],"nice":false,"zero":false},"axis":{"values":[1,18,35,52,69,86,103,120,137,154,171,188,205],"labelAngle":-50,"title":"Hours","labelOverlap":false}},
"y":{"field":"y","type":"quantitative","scale":{"domain":[0,3000],"nice":false},"axis":{"values":[0,250,500,750,1000,1250,1500,1750,2000,2250,2500,2750,3000],"labelExpr":"datum.value % 1000 === 0 ? datum.value : ''","tickSize":{"condition":{"test":"datum.value % 1000 === 0","value":9},"value":5},"title":"Flourescent green cell count (1/image)","labelOverlap":false,"titlePadding":15}},
"stroke":{"field":"s","type":"nominal","scale":{"domain":["C","P","V","N","U"],"range":["#1d6b1d","#3b1a85","#3de3c4","#c8c814","#b31b1b"]},"legend":null}}},
{"data":{"name":"bl"},"mark":{"type":"point","filled":true,"size":14,"opacity":1},
"encoding":{"x":{"field":"t","type":"quantitative","scale":{"domain":[1,210],"nice":false,"zero":false}},"y":{"field":"y","type":"quantitative","scale":{"domain":[0,3000],"nice":false}},
"color":{"field":"s","type":"nominal","scale":{"domain":["U","N","V","P","C"],"range":["#b31b1b","#c8c814","#3de3c4","#3b1a85","#1d6b1d"]},"legend":{"orient":"none","legendX":21,"legendY":31,"title":null,"labelExpr":"datum.label=='U'?'UMCD6 (n=5)':datum.label=='P'?'Pembrolizumab (n=5)':datum.label=='N'?'Nivolumab (n=5)':datum.label=='V'?'α-vWF (IgG) (n=5)':'caspase reagent (n=4)'"}},
"shape":{"field":"s","type":"nominal","scale":{"domain":["U","N","V","P","C"],"range":["circle","triangle-up","triangle-down","square","diamond"]},"legend":{"orient":"none","legendX":21,"legendY":31,"title":null,"labelExpr":"datum.label=='U'?'UMCD6 (n=5)':datum.label=='P'?'Pembrolizumab (n=5)':datum.label=='N'?'Nivolumab (n=5)':datum.label=='V'?'α-vWF (IgG) (n=5)':'caspase reagent (n=4)'"}}}},
{"data":{"name":"bla"},"transform":[{"filter":"isValid(datum.txt) && datum.k != 'star'"}],"mark":{"type":"text","baseline":"middle","align":"center"},
"encoding":{"x":{"field":"t","type":"quantitative","scale":{"domain":[1,210],"nice":false,"zero":false}},"y":{"field":"y","type":"quantitative","scale":{"domain":[0,3000],"nice":false}},"text":{"field":"txt"},
"size":{"field":"k","type":"nominal","scale":{"domain":["p","s","add","st"],"range":[22,14,14,36]},"legend":null},
"fill":{"field":"k","type":"nominal","scale":{"domain":["p","s","add","st"],"range":["#000000","#333333","#444444","#000000"]},"legend":null}}},
{"data":{"name":"bla"},"transform":[{"filter":"datum.k=='star'"}],"mark":{"type":"text","baseline":"middle","align":"center","fontSize":40,"fontWeight":"bold","color":"#000"},
"encoding":{"x":{"field":"t","type":"quantitative","scale":{"domain":[1,210],"nice":false,"zero":false}},"y":{"field":"y","type":"quantitative","scale":{"domain":[0,3000],"nice":false}},"text":{"field":"txt"}}},
{"data":{"name":"bla"},"transform":[{"filter":"datum.k=='bs'"}],"mark":{"type":"rule","color":"#000","strokeWidth":2},
"encoding":{"x":{"field":"t","type":"quantitative","scale":{"domain":[1,210],"nice":false,"zero":false}},"x2":{"field":"t2"},"y":{"field":"y","type":"quantitative","scale":{"domain":[0,3000],"nice":false}},"y2":{"field":"y2"}}},
{"data":{"name":"bla"},"transform":[{"filter":"datum.k=='rs'"}],"mark":{"type":"rule","color":"#9b1b1b","strokeWidth":2.5},
"encoding":{"x":{"field":"t","type":"quantitative","scale":{"domain":[1,210],"nice":false,"zero":false}},"x2":{"field":"t2"},"y":{"field":"y","type":"quantitative","scale":{"domain":[0,3000],"nice":false}},"y2":{"field":"y2"}}},
{"data":{"name":"bla"},"transform":[{"filter":"datum.k=='bh'"}],"mark":{"type":"point","shape":"triangle-up","size":220,"filled":true,"fill":"#ffffff","stroke":"#000000","strokeWidth":1.5,"opacity":1},
"encoding":{"x":{"field":"t","type":"quantitative","scale":{"domain":[1,210],"nice":false,"zero":false}},"y":{"field":"y","type":"quantitative","scale":{"domain":[0,3000],"nice":false}},"angle":{"field":"a","type":"quantitative","scale":null}}},
{"data":{"name":"bla"},"transform":[{"filter":"datum.k=='rh'"}],"mark":{"type":"point","shape":"triangle-up","size":220,"filled":true,"fill":"#ffffff","stroke":"#9b1b1b","strokeWidth":1.5,"opacity":1},
"encoding":{"x":{"field":"t","type":"quantitative","scale":{"domain":[1,210],"nice":false,"zero":false}},"y":{"field":"y","type":"quantitative","scale":{"domain":[0,3000],"nice":false}},"angle":{"field":"a","type":"quantitative","scale":null}}}
]},
{"width":600,"height":392,
"title":{"text":"NK cells","fontSize":26,"offset":-32,"frame":"group","anchor":"middle"},
"layer":[
{"data":{"name":"br"},"mark":{"type":"errorband","interpolate":"monotone","band":{"color":"#858585","opacity":1},"borders":{"color":"#666666","strokeWidth":1.5}},
"encoding":{"x":{"field":"t","type":"quantitative","title":"Hours","scale":{"domain":[1,210],"nice":false,"zero":false}},"y":{"field":"y","type":"quantitative","title":"Flourescent red cell count (1/image)","scale":{"type":"log","base":2,"domain":[256,4096],"nice":false}},"yError":{"field":"e"},"detail":{"field":"s"}}},
{"data":{"name":"br"},"mark":{"type":"line","strokeWidth":4,"interpolate":"monotone"},
"encoding":{"x":{"field":"t","type":"quantitative","scale":{"domain":[1,210],"nice":false,"zero":false},"axis":{"values":[1,18,35,52,69,86,103,120,137,154,171,188,205],"labelAngle":-50,"title":"Hours","labelOverlap":false}},
"y":{"field":"y","type":"quantitative","scale":{"type":"log","base":2,"domain":[256,4096],"nice":false},"axis":{"values":[256,320,384,448,512,640,768,896,1024,1280,1536,1792,2048,2560,3072,3584,4096],"labelExpr":"indexof([256,512,1024,2048,4096], datum.value) >= 0 ? datum.value : ''","tickSize":{"condition":{"test":"indexof([256,512,1024,2048,4096], datum.value) >= 0","value":9},"value":5},"title":"Flourescent red cell count (1/image)","labelOverlap":false,"titlePadding":8}},
"stroke":{"field":"s","type":"nominal","scale":{"domain":["U","N","P","V","C"],"range":["#b31b1b","#c8c814","#3b1a85","#3de3c4","#1d6b1d"]},"legend":null}}},
{"data":{"name":"br"},"mark":{"type":"point","filled":true,"size":14,"opacity":1},
"encoding":{"x":{"field":"t","type":"quantitative","scale":{"domain":[1,210],"nice":false,"zero":false}},"y":{"field":"y","type":"quantitative","scale":{"type":"log","base":2,"domain":[256,4096],"nice":false}},
"color":{"field":"s","type":"nominal","scale":{"domain":["C","V","P","N","U"],"range":["#1d6b1d","#3de3c4","#3b1a85","#c8c814","#b31b1b"]},"legend":{"orient":"none","legendX":151,"legendY":231,"title":null,"labelExpr":"datum.label=='U'?'UMCD6 (n=5)':datum.label=='P'?'Pembrolizumab (n=5)':datum.label=='N'?'Nivolumab (n=5)':datum.label=='V'?'α-vWF (IgG) (n=5)':'caspase rgnt (n=4)'"}},
"shape":{"field":"s","type":"nominal","scale":{"domain":["C","V","P","N","U"],"range":["diamond","triangle-down","square","triangle-up","circle"]},"legend":{"orient":"none","legendX":151,"legendY":231,"title":null,"labelExpr":"datum.label=='U'?'UMCD6 (n=5)':datum.label=='P'?'Pembrolizumab (n=5)':datum.label=='N'?'Nivolumab (n=5)':datum.label=='V'?'α-vWF (IgG) (n=5)':'caspase rgnt (n=4)'"}}}},
{"data":{"name":"bra"},"transform":[{"filter":"isValid(datum.txt) && datum.k != 'star'"}],"mark":{"type":"text","baseline":"middle","align":"center"},
"encoding":{"x":{"field":"t","type":"quantitative","scale":{"domain":[1,210],"nice":false,"zero":false}},"y":{"field":"y","type":"quantitative","scale":{"type":"log","base":2,"domain":[256,4096],"nice":false}},"text":{"field":"txt"},
"size":{"field":"k","type":"nominal","scale":{"domain":["p","s","add","st"],"range":[22,14,14,36]},"legend":null},
"fill":{"field":"k","type":"nominal","scale":{"domain":["p","s","add","st"],"range":["#000000","#333333","#444444","#000000"]},"legend":null}}},
{"data":{"name":"bra"},"transform":[{"filter":"datum.k=='star'"}],"mark":{"type":"text","baseline":"middle","align":"center","fontSize":40,"fontWeight":"bold","color":"#000"},
"encoding":{"x":{"field":"t","type":"quantitative","scale":{"domain":[1,210],"nice":false,"zero":false}},"y":{"field":"y","type":"quantitative","scale":{"type":"log","base":2,"domain":[256,4096],"nice":false}},"text":{"field":"txt"}}},
{"data":{"name":"bra"},"transform":[{"filter":"datum.k=='bs'"}],"mark":{"type":"rule","color":"#000","strokeWidth":2},
"encoding":{"x":{"field":"t","type":"quantitative","scale":{"domain":[1,210],"nice":false,"zero":false}},"x2":{"field":"t2"},"y":{"field":"y","type":"quantitative","scale":{"type":"log","base":2,"domain":[256,4096],"nice":false}},"y2":{"field":"y2"}}},
{"data":{"name":"bra"},"transform":[{"filter":"datum.k=='ds'"}],"mark":{"type":"rule","color":"#000","strokeWidth":1.5,"strokeDash":[6,4]},
"encoding":{"x":{"field":"t","type":"quantitative","scale":{"domain":[1,210],"nice":false,"zero":false}},"x2":{"field":"t2"},"y":{"field":"y","type":"quantitative","scale":{"type":"log","base":2,"domain":[256,4096],"nice":false}},"y2":{"field":"y2"}}},
{"data":{"name":"bra"},"transform":[{"filter":"datum.k=='rs'"}],"mark":{"type":"rule","color":"#9b1b1b","strokeWidth":2.5},
"encoding":{"x":{"field":"t","type":"quantitative","scale":{"domain":[1,210],"nice":false,"zero":false}},"x2":{"field":"t2"},"y":{"field":"y","type":"quantitative","scale":{"type":"log","base":2,"domain":[256,4096],"nice":false}},"y2":{"field":"y2"}}},
{"data":{"name":"bra"},"transform":[{"filter":"datum.k=='bh'"}],"mark":{"type":"point","shape":"triangle-up","size":220,"filled":true,"fill":"#ffffff","stroke":"#000000","strokeWidth":1.5,"opacity":1},
"encoding":{"x":{"field":"t","type":"quantitative","scale":{"domain":[1,210],"nice":false,"zero":false}},"y":{"field":"y","type":"quantitative","scale":{"type":"log","base":2,"domain":[256,4096],"nice":false}},"angle":{"field":"a","type":"quantitative","scale":null}}},
{"data":{"name":"bra"},"transform":[{"filter":"datum.k=='rh'"}],"mark":{"type":"point","shape":"triangle-up","size":220,"filled":true,"fill":"#ffffff","stroke":"#9b1b1b","strokeWidth":1.5,"opacity":1},
"encoding":{"x":{"field":"t","type":"quantitative","scale":{"domain":[1,210],"nice":false,"zero":false}},"y":{"field":"y","type":"quantitative","scale":{"type":"log","base":2,"domain":[256,4096],"nice":false}},"angle":{"field":"a","type":"quantitative","scale":null}}}
]}
],
"columns":2,
"spacing":{"row":119,"column":131},
"bounds":"flush",
"resolve":{"scale":{"color":"independent","shape":"independent","stroke":"independent"}},
"title":{"text":["Figure 5. CD6+ NK cells treated with UMCD6 are highly effective at killing MDA-MB-231 tumor cells. Upper panel: Tumor cell killing assays","were set up using 50,000 immune cells and 20,000 MDA-MB-231 HBCCs and antibodies at 10ug/mL. PBMCs pre-incubated with UMCD6 killed","tumor cells much more effectively than PBMCs pre-incubated with IgG control antibody, pembrolizumab or nivolumab (right panels, red fluorescence","tumor cell survival with y-axis log₂) and cell death (left panels, green fluorescence, caspase sensitive with y-axis linear). Middle panel: Isolated CD8+","cells showed enhanced killing and lower tumor cell survival in co-cultures with UMCD6, compared to the other antibodies. Lower panel: Only UMCD6","induced tumor cell killing by purified NK cells."],"orient":"bottom","anchor":"start","fontSize":22,"fontWeight":"normal","lineHeight":25,"offset":22,"dx":24,"frame":"bounds"},
"config":{
"font":"Liberation Sans",
"view":{"stroke":null},
"axis":{"domainColor":"#000","domainWidth":2,"tickColor":"#000","tickWidth":2,"tickSize":9,"labelColor":"#000","labelFont":"Liberation Sans","labelFontSize":21,"titleFont":"Liberation Sans","titleFontSize":21,"titleFontWeight":"normal","titleColor":"#000","grid":false,"labelPadding":4,"labelBound":false,"labelOverlap":false},
"axisX":{"labelFontSize":23,"labelPadding":5,"tickSize":10,"titleFontSize":22,"titlePadding":12},
"legend":{"labelFont":"Liberation Sans","labelFontSize":20,"labelColor":"#000","labelLimit":400,"symbolSize":30,"symbolStrokeWidth":0,"labelOffset":34,"rowPadding":7,"padding":0},
"title":{"font":"Liberation Sans","fontWeight":"normal","color":"#000"}
}
}
